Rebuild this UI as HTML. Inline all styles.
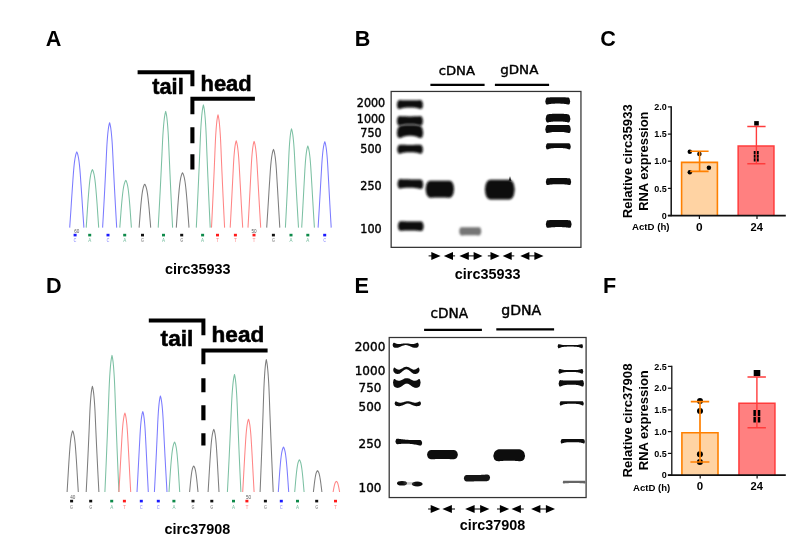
<!DOCTYPE html>
<html lang="en"><head><meta charset="utf-8"><title>Figure</title>
<style>
html,body{margin:0;padding:0;background:#fff;}
body{width:802px;height:544px;overflow:hidden;font-family:"Liberation Sans",sans-serif;}
svg{display:block;position:absolute;left:0;top:0;}

</style></head><body>
<svg width="802" height="544" viewBox="0 0 802 544">
<rect width="802" height="544" fill="#fff"/>
<text x="45.8" y="46.1" font-size="21.6" font-weight="bold" text-anchor="start" font-family="'Liberation Sans',sans-serif">A</text>
<text x="354.8" y="46.1" font-size="21.6" font-weight="bold" text-anchor="start" font-family="'Liberation Sans',sans-serif">B</text>
<text x="600.2" y="46.2" font-size="21.6" font-weight="bold" text-anchor="start" font-family="'Liberation Sans',sans-serif">C</text>
<text x="46.0" y="292.9" font-size="21.6" font-weight="bold" text-anchor="start" font-family="'Liberation Sans',sans-serif">D</text>
<text x="354.6" y="293.1" font-size="21.6" font-weight="bold" text-anchor="start" font-family="'Liberation Sans',sans-serif">E</text>
<text x="603.0999999999999" y="293.1" font-size="21.6" font-weight="bold" text-anchor="start" font-family="'Liberation Sans',sans-serif">F</text>
<path d="M69.70,227.60 L69.99,223.36 L70.28,219.22 L70.55,215.19 L70.82,211.25 L71.07,207.42 L71.31,203.70 L71.55,200.09 L71.78,196.58 L72.01,193.18 L72.23,189.90 L72.44,186.72 L72.66,183.67 L72.87,180.72 L73.06,177.90 L73.26,175.20 L73.45,172.62 L73.65,170.17 L73.86,167.84 L74.07,165.65 L74.30,163.59 L74.54,161.68 L74.79,159.90 L75.05,158.28 L75.32,156.81 L75.60,155.50 L75.88,154.36 L76.16,153.41 L76.45,152.66 L76.69,152.13 L76.80,151.90 L76.91,152.13 L77.15,152.66 L77.44,153.41 L77.72,154.36 L78.00,155.50 L78.28,156.81 L78.55,158.28 L78.81,159.90 L79.06,161.68 L79.30,163.59 L79.53,165.65 L79.74,167.84 L79.95,170.17 L80.15,172.62 L80.34,175.20 L80.54,177.90 L80.73,180.72 L80.94,183.67 L81.16,186.72 L81.37,189.90 L81.59,193.18 L81.82,196.58 L82.05,200.09 L82.29,203.70 L82.53,207.42 L82.78,211.25 L83.05,215.19 L83.32,219.22 L83.61,223.36 L83.90,227.60" fill="none" stroke="#7b7bff" stroke-width="1.05" stroke-linejoin="round"/>
<path d="M86.20,227.60 L86.42,224.35 L86.64,221.18 L86.85,218.09 L87.06,215.08 L87.25,212.14 L87.44,209.29 L87.63,206.52 L87.82,203.83 L88.00,201.23 L88.19,198.71 L88.38,196.28 L88.56,193.94 L88.75,191.68 L88.93,189.52 L89.11,187.45 L89.29,185.48 L89.48,183.60 L89.67,181.82 L89.87,180.14 L90.08,178.56 L90.30,177.09 L90.53,175.73 L90.77,174.49 L91.03,173.36 L91.29,172.36 L91.54,171.49 L91.80,170.76 L92.07,170.18 L92.29,169.78 L92.40,169.60 L92.51,169.78 L92.73,170.18 L93.01,170.76 L93.27,171.49 L93.53,172.36 L93.79,173.36 L94.06,174.49 L94.30,175.73 L94.53,177.09 L94.76,178.56 L94.97,180.14 L95.17,181.82 L95.37,183.60 L95.56,185.48 L95.74,187.45 L95.93,189.52 L96.11,191.68 L96.30,193.94 L96.49,196.28 L96.68,198.71 L96.87,201.23 L97.06,203.83 L97.25,206.52 L97.44,209.29 L97.63,212.14 L97.83,215.08 L98.04,218.09 L98.25,221.18 L98.47,224.35 L98.70,227.60" fill="none" stroke="#7cc0a3" stroke-width="1.05" stroke-linejoin="round"/>
<path d="M102.60,227.60 L102.94,221.73 L103.27,215.99 L103.58,210.40 L103.88,204.95 L104.17,199.64 L104.45,194.48 L104.71,189.47 L104.96,184.61 L105.20,179.91 L105.43,175.35 L105.65,170.96 L105.86,166.72 L106.06,162.64 L106.24,158.73 L106.41,154.99 L106.58,151.41 L106.76,148.01 L106.94,144.79 L107.14,141.76 L107.35,138.91 L107.57,136.25 L107.79,133.79 L108.02,131.54 L108.27,129.50 L108.52,127.69 L108.78,126.11 L109.04,124.79 L109.30,123.75 L109.50,123.02 L109.60,122.70 L109.70,123.02 L109.91,123.75 L110.17,124.79 L110.43,126.11 L110.70,127.69 L110.95,129.50 L111.20,131.54 L111.43,133.79 L111.66,136.25 L111.89,138.91 L112.10,141.76 L112.30,144.79 L112.48,148.01 L112.66,151.41 L112.83,154.99 L113.01,158.73 L113.19,162.64 L113.40,166.72 L113.61,170.96 L113.83,175.35 L114.06,179.91 L114.30,184.61 L114.56,189.47 L114.83,194.48 L115.11,199.64 L115.40,204.95 L115.70,210.40 L116.02,215.99 L116.35,221.73 L116.70,227.60" fill="none" stroke="#7b7bff" stroke-width="1.05" stroke-linejoin="round"/>
<path d="M119.80,227.60 L120.00,224.95 L120.20,222.37 L120.39,219.84 L120.58,217.39 L120.76,214.99 L120.93,212.67 L121.10,210.41 L121.28,208.22 L121.45,206.09 L121.63,204.04 L121.81,202.06 L121.99,200.15 L122.17,198.31 L122.35,196.55 L122.53,194.86 L122.71,193.25 L122.90,191.71 L123.09,190.26 L123.29,188.89 L123.50,187.61 L123.71,186.41 L123.94,185.30 L124.18,184.28 L124.44,183.37 L124.70,182.55 L124.95,181.84 L125.20,181.24 L125.47,180.77 L125.69,180.45 L125.80,180.30 L125.90,180.45 L126.11,180.77 L126.36,181.24 L126.60,181.84 L126.83,182.55 L127.07,183.37 L127.31,184.28 L127.54,185.30 L127.75,186.41 L127.95,187.61 L128.14,188.89 L128.33,190.26 L128.51,191.71 L128.68,193.25 L128.85,194.86 L129.02,196.55 L129.19,198.31 L129.36,200.15 L129.53,202.06 L129.69,204.04 L129.86,206.09 L130.02,208.22 L130.19,210.41 L130.35,212.67 L130.51,214.99 L130.67,217.39 L130.85,219.84 L131.03,222.37 L131.21,224.95 L131.40,227.60" fill="none" stroke="#7cc0a3" stroke-width="1.05" stroke-linejoin="round"/>
<path d="M139.10,227.60 L139.29,225.17 L139.47,222.80 L139.65,220.48 L139.83,218.23 L139.99,216.03 L140.15,213.90 L140.31,211.83 L140.48,209.82 L140.64,207.87 L140.81,205.98 L140.97,204.16 L141.14,202.41 L141.31,200.73 L141.48,199.11 L141.65,197.56 L141.82,196.08 L141.99,194.67 L142.17,193.34 L142.36,192.08 L142.55,190.90 L142.75,189.81 L142.96,188.79 L143.19,187.86 L143.43,187.01 L143.67,186.26 L143.90,185.61 L144.14,185.07 L144.39,184.63 L144.60,184.33 L144.70,184.20 L144.81,184.33 L145.03,184.63 L145.30,185.07 L145.55,185.61 L145.80,186.26 L146.06,187.01 L146.32,187.86 L146.56,188.79 L146.79,189.81 L147.00,190.90 L147.21,192.08 L147.41,193.34 L147.60,194.67 L147.79,196.08 L147.97,197.56 L148.15,199.11 L148.33,200.73 L148.51,202.41 L148.69,204.16 L148.87,205.98 L149.05,207.87 L149.22,209.82 L149.40,211.83 L149.57,213.90 L149.74,216.03 L149.92,218.23 L150.11,220.48 L150.30,222.80 L150.50,225.17 L150.70,227.60" fill="none" stroke="#7d7d7d" stroke-width="1.05" stroke-linejoin="round"/>
<path d="M158.20,227.60 L158.56,221.09 L158.91,214.74 L159.25,208.54 L159.57,202.51 L159.88,196.63 L160.18,190.92 L160.46,185.37 L160.73,179.98 L160.99,174.77 L161.23,169.72 L161.46,164.85 L161.69,160.16 L161.91,155.64 L162.10,151.31 L162.28,147.16 L162.47,143.21 L162.65,139.44 L162.85,135.87 L163.06,132.51 L163.29,129.35 L163.52,126.41 L163.76,123.68 L164.01,121.19 L164.27,118.93 L164.54,116.93 L164.82,115.18 L165.10,113.72 L165.38,112.56 L165.60,111.76 L165.70,111.40 L165.80,111.76 L166.00,112.56 L166.25,113.72 L166.51,115.18 L166.77,116.93 L167.01,118.93 L167.26,121.19 L167.48,123.68 L167.70,126.41 L167.92,129.35 L168.13,132.51 L168.32,135.87 L168.50,139.44 L168.67,143.21 L168.84,147.16 L169.01,151.31 L169.19,155.64 L169.39,160.16 L169.60,164.85 L169.81,169.72 L170.04,174.77 L170.27,179.98 L170.52,185.37 L170.78,190.92 L171.05,196.63 L171.34,202.51 L171.63,208.54 L171.94,214.74 L172.26,221.09 L172.60,227.60" fill="none" stroke="#7cc0a3" stroke-width="1.05" stroke-linejoin="round"/>
<path d="M176.30,227.60 L176.52,224.53 L176.73,221.54 L176.93,218.61 L177.13,215.77 L177.33,213.00 L177.51,210.30 L177.70,207.68 L177.88,205.14 L178.07,202.68 L178.25,200.31 L178.44,198.01 L178.62,195.80 L178.81,193.67 L178.99,191.62 L179.17,189.67 L179.36,187.80 L179.55,186.02 L179.74,184.34 L179.94,182.76 L180.16,181.27 L180.38,179.88 L180.61,178.59 L180.85,177.42 L181.12,176.35 L181.38,175.41 L181.63,174.58 L181.89,173.89 L182.17,173.35 L182.39,172.97 L182.50,172.80 L182.61,172.97 L182.85,173.35 L183.14,173.89 L183.41,174.58 L183.68,175.41 L183.95,176.35 L184.23,177.42 L184.48,178.59 L184.72,179.88 L184.96,181.27 L185.18,182.76 L185.39,184.34 L185.60,186.02 L185.79,187.80 L185.99,189.67 L186.18,191.62 L186.37,193.67 L186.57,195.80 L186.76,198.01 L186.95,200.31 L187.15,202.68 L187.34,205.14 L187.54,207.68 L187.73,210.30 L187.92,213.00 L188.12,215.77 L188.33,218.61 L188.55,221.54 L188.77,224.53 L189.00,227.60" fill="none" stroke="#7d7d7d" stroke-width="1.05" stroke-linejoin="round"/>
<path d="M196.30,227.60 L196.65,220.73 L196.98,214.02 L197.30,207.48 L197.60,201.10 L197.89,194.90 L198.17,188.86 L198.44,183.00 L198.70,177.32 L198.94,171.81 L199.17,166.49 L199.39,161.34 L199.60,156.39 L199.81,151.62 L199.99,147.04 L200.17,142.67 L200.34,138.49 L200.52,134.51 L200.70,130.74 L200.90,127.19 L201.11,123.86 L201.34,120.75 L201.57,117.87 L201.80,115.24 L202.05,112.85 L202.30,110.73 L202.57,108.89 L202.83,107.35 L203.09,106.13 L203.30,105.28 L203.40,104.90 L203.49,105.28 L203.69,106.13 L203.94,107.35 L204.20,108.89 L204.45,110.73 L204.70,112.85 L204.93,115.24 L205.16,117.87 L205.38,120.75 L205.59,123.86 L205.79,127.19 L205.98,130.74 L206.16,134.51 L206.33,138.49 L206.50,142.67 L206.66,147.04 L206.84,151.62 L207.04,156.39 L207.24,161.34 L207.45,166.49 L207.67,171.81 L207.90,177.32 L208.15,183.00 L208.41,188.86 L208.67,194.90 L208.95,201.10 L209.25,207.48 L209.55,214.02 L209.87,220.73 L210.20,227.60" fill="none" stroke="#7cc0a3" stroke-width="1.05" stroke-linejoin="round"/>
<path d="M211.50,227.60 L211.82,221.28 L212.12,215.12 L212.41,209.10 L212.69,203.24 L212.96,197.54 L213.21,191.99 L213.46,186.60 L213.69,181.38 L213.92,176.31 L214.13,171.42 L214.33,166.69 L214.52,162.13 L214.71,157.75 L214.88,153.54 L215.04,149.52 L215.20,145.68 L215.36,142.02 L215.53,138.56 L215.71,135.29 L215.91,132.23 L216.11,129.37 L216.32,126.72 L216.54,124.30 L216.76,122.11 L217.00,120.16 L217.24,118.47 L217.48,117.05 L217.72,115.93 L217.91,115.15 L218.00,114.80 L218.09,115.15 L218.29,115.93 L218.53,117.05 L218.77,118.47 L219.02,120.16 L219.26,122.11 L219.49,124.30 L219.70,126.72 L219.92,129.37 L220.12,132.23 L220.32,135.29 L220.51,138.56 L220.68,142.02 L220.85,145.68 L221.01,149.52 L221.17,153.54 L221.34,157.75 L221.53,162.13 L221.73,166.69 L221.93,171.42 L222.15,176.31 L222.37,181.38 L222.61,186.60 L222.86,191.99 L223.12,197.54 L223.39,203.24 L223.68,209.10 L223.97,215.12 L224.28,221.28 L224.60,227.60" fill="none" stroke="#ff8585" stroke-width="1.05" stroke-linejoin="round"/>
<path d="M230.20,227.60 L230.47,222.74 L230.73,217.99 L230.97,213.37 L231.21,208.86 L231.44,204.47 L231.66,200.20 L231.88,196.05 L232.08,192.03 L232.28,188.14 L232.47,184.37 L232.65,180.73 L232.83,177.22 L233.01,173.85 L233.17,170.61 L233.33,167.52 L233.48,164.56 L233.64,161.75 L233.81,159.08 L233.98,156.57 L234.17,154.21 L234.37,152.01 L234.57,149.98 L234.78,148.11 L235.00,146.43 L235.23,144.93 L235.46,143.62 L235.69,142.53 L235.92,141.67 L236.11,141.07 L236.20,140.80 L236.30,141.07 L236.50,141.67 L236.75,142.53 L237.01,143.62 L237.25,144.93 L237.50,146.43 L237.74,148.11 L237.97,149.98 L238.19,152.01 L238.40,154.21 L238.60,156.57 L238.79,159.08 L238.97,161.75 L239.15,164.56 L239.31,167.52 L239.48,170.61 L239.66,173.85 L239.85,177.22 L240.04,180.73 L240.24,184.37 L240.45,188.14 L240.66,192.03 L240.89,196.05 L241.12,200.20 L241.35,204.47 L241.60,208.86 L241.86,213.37 L242.13,217.99 L242.41,222.74 L242.70,227.60" fill="none" stroke="#ff8585" stroke-width="1.05" stroke-linejoin="round"/>
<path d="M248.00,227.60 L248.27,222.77 L248.53,218.06 L248.78,213.46 L249.03,208.99 L249.26,204.63 L249.48,200.39 L249.70,196.27 L249.91,192.28 L250.11,188.41 L250.30,184.67 L250.49,181.05 L250.67,177.57 L250.85,174.22 L251.01,171.01 L251.17,167.93 L251.33,164.99 L251.49,162.20 L251.66,159.56 L251.84,157.06 L252.03,154.72 L252.23,152.53 L252.44,150.51 L252.65,148.66 L252.88,146.99 L253.11,145.50 L253.34,144.20 L253.58,143.12 L253.82,142.26 L254.01,141.67 L254.10,141.40 L254.20,141.67 L254.41,142.26 L254.66,143.12 L254.92,144.20 L255.17,145.50 L255.42,146.99 L255.67,148.66 L255.90,150.51 L256.12,152.53 L256.34,154.72 L256.54,157.06 L256.74,159.56 L256.92,162.20 L257.10,164.99 L257.27,167.93 L257.44,171.01 L257.62,174.22 L257.81,177.57 L258.01,181.05 L258.21,184.67 L258.42,188.41 L258.64,192.28 L258.86,196.27 L259.10,200.39 L259.34,204.63 L259.59,208.99 L259.85,213.46 L260.12,218.06 L260.41,222.77 L260.70,227.60" fill="none" stroke="#ff8585" stroke-width="1.05" stroke-linejoin="round"/>
<path d="M266.70,227.60 L266.99,223.22 L267.26,218.95 L267.53,214.78 L267.79,210.71 L268.03,206.76 L268.27,202.91 L268.50,199.18 L268.72,195.56 L268.94,192.05 L269.15,188.65 L269.36,185.37 L269.57,182.21 L269.77,179.18 L269.95,176.26 L270.14,173.47 L270.32,170.81 L270.51,168.27 L270.70,165.87 L270.91,163.61 L271.13,161.48 L271.36,159.50 L271.59,157.67 L271.84,155.99 L272.10,154.47 L272.36,153.12 L272.63,151.94 L272.90,150.96 L273.17,150.18 L273.39,149.64 L273.50,149.40 L273.60,149.64 L273.80,150.18 L274.06,150.96 L274.31,151.94 L274.55,153.12 L274.80,154.47 L275.04,155.99 L275.27,157.67 L275.49,159.50 L275.70,161.48 L275.90,163.61 L276.09,165.87 L276.27,168.27 L276.45,170.81 L276.62,173.47 L276.78,176.26 L276.96,179.18 L277.14,182.21 L277.33,185.37 L277.53,188.65 L277.72,192.05 L277.92,195.56 L278.13,199.18 L278.35,202.91 L278.57,206.76 L278.79,210.71 L279.03,214.78 L279.28,218.95 L279.53,223.22 L279.80,227.60" fill="none" stroke="#7d7d7d" stroke-width="1.05" stroke-linejoin="round"/>
<path d="M285.40,227.60 L285.69,222.07 L285.98,216.67 L286.25,211.40 L286.51,206.26 L286.76,201.27 L287.00,196.41 L287.23,191.69 L287.45,187.11 L287.65,182.68 L287.85,178.39 L288.04,174.25 L288.22,170.26 L288.40,166.42 L288.56,162.74 L288.71,159.21 L288.86,155.84 L289.01,152.64 L289.17,149.61 L289.34,146.75 L289.53,144.06 L289.72,141.56 L289.92,139.24 L290.12,137.12 L290.33,135.20 L290.55,133.50 L290.78,132.01 L291.01,130.77 L291.23,129.79 L291.42,129.10 L291.50,128.80 L291.60,129.10 L291.80,129.79 L292.06,130.77 L292.33,132.01 L292.59,133.50 L292.84,135.20 L293.09,137.12 L293.32,139.24 L293.54,141.56 L293.76,144.06 L293.97,146.75 L294.17,149.61 L294.36,152.64 L294.53,155.84 L294.70,159.21 L294.88,162.74 L295.06,166.42 L295.26,170.26 L295.47,174.25 L295.69,178.39 L295.91,182.68 L296.15,187.11 L296.40,191.69 L296.67,196.41 L296.94,201.27 L297.23,206.26 L297.53,211.40 L297.84,216.67 L298.16,222.07 L298.50,227.60" fill="none" stroke="#7cc0a3" stroke-width="1.05" stroke-linejoin="round"/>
<path d="M301.70,227.60 L301.96,223.03 L302.22,218.57 L302.46,214.22 L302.70,209.98 L302.92,205.85 L303.14,201.84 L303.35,197.94 L303.55,194.16 L303.75,190.50 L303.94,186.96 L304.13,183.54 L304.31,180.24 L304.49,177.07 L304.66,174.03 L304.82,171.12 L304.98,168.34 L305.15,165.69 L305.32,163.19 L305.50,160.82 L305.70,158.61 L305.90,156.54 L306.11,154.63 L306.33,152.87 L306.56,151.29 L306.79,149.88 L307.03,148.66 L307.27,147.63 L307.51,146.82 L307.71,146.25 L307.80,146.00 L307.90,146.25 L308.11,146.82 L308.38,147.63 L308.64,148.66 L308.89,149.88 L309.15,151.29 L309.40,152.87 L309.63,154.63 L309.86,156.54 L310.08,158.61 L310.28,160.82 L310.48,163.19 L310.67,165.69 L310.85,168.34 L311.02,171.12 L311.20,174.03 L311.38,177.07 L311.57,180.24 L311.77,183.54 L311.97,186.96 L312.18,190.50 L312.39,194.16 L312.62,197.94 L312.84,201.84 L313.08,205.85 L313.32,209.98 L313.58,214.22 L313.84,218.57 L314.12,223.03 L314.40,227.60" fill="none" stroke="#7cc0a3" stroke-width="1.05" stroke-linejoin="round"/>
<path d="M318.10,227.60 L318.40,222.79 L318.68,218.09 L318.96,213.51 L319.23,209.05 L319.48,204.71 L319.72,200.48 L319.96,196.38 L320.19,192.40 L320.41,188.54 L320.62,184.82 L320.83,181.22 L321.03,177.75 L321.22,174.41 L321.41,171.20 L321.58,168.14 L321.75,165.21 L321.93,162.43 L322.12,159.79 L322.32,157.30 L322.53,154.97 L322.75,152.79 L322.97,150.78 L323.21,148.94 L323.46,147.27 L323.71,145.78 L323.97,144.50 L324.23,143.41 L324.49,142.56 L324.70,141.96 L324.80,141.70 L324.90,141.96 L325.10,142.56 L325.35,143.41 L325.60,144.50 L325.84,145.78 L326.08,147.27 L326.32,148.94 L326.55,150.78 L326.76,152.79 L326.97,154.97 L327.17,157.30 L327.36,159.79 L327.54,162.43 L327.71,165.21 L327.88,168.14 L328.04,171.20 L328.22,174.41 L328.40,177.75 L328.60,181.22 L328.79,184.82 L328.99,188.54 L329.20,192.40 L329.42,196.38 L329.65,200.48 L329.88,204.71 L330.12,209.05 L330.38,213.51 L330.64,218.09 L330.92,222.79 L331.20,227.60" fill="none" stroke="#7b7bff" stroke-width="1.05" stroke-linejoin="round"/>
<rect x="73.6" y="233.8" width="3" height="2.6" fill="#1a1aff"/>
<text x="75.1" y="242.4" font-size="5" text-anchor="middle" fill="#8a8aff" font-family="'Liberation Mono',monospace">C</text>
<rect x="88.2" y="233.8" width="3" height="2.6" fill="#0e8a4a"/>
<text x="89.7" y="242.4" font-size="5" text-anchor="middle" fill="#7cc0a3" font-family="'Liberation Mono',monospace">A</text>
<rect x="106.5" y="233.8" width="3" height="2.6" fill="#1a1aff"/>
<text x="108.0" y="242.4" font-size="5" text-anchor="middle" fill="#8a8aff" font-family="'Liberation Mono',monospace">C</text>
<rect x="123.2" y="233.8" width="3" height="2.6" fill="#0e8a4a"/>
<text x="124.7" y="242.4" font-size="5" text-anchor="middle" fill="#7cc0a3" font-family="'Liberation Mono',monospace">A</text>
<rect x="141.0" y="233.8" width="3" height="2.6" fill="#111111"/>
<text x="142.5" y="242.4" font-size="5" text-anchor="middle" fill="#888888" font-family="'Liberation Mono',monospace">G</text>
<rect x="162.0" y="233.8" width="3" height="2.6" fill="#0e8a4a"/>
<text x="163.5" y="242.4" font-size="5" text-anchor="middle" fill="#7cc0a3" font-family="'Liberation Mono',monospace">A</text>
<rect x="180.2" y="233.8" width="3" height="2.6" fill="#111111"/>
<text x="181.7" y="242.4" font-size="5" text-anchor="middle" fill="#888888" font-family="'Liberation Mono',monospace">G</text>
<rect x="201.1" y="233.8" width="3" height="2.6" fill="#0e8a4a"/>
<text x="202.6" y="242.4" font-size="5" text-anchor="middle" fill="#7cc0a3" font-family="'Liberation Mono',monospace">A</text>
<rect x="216.0" y="233.8" width="3" height="2.6" fill="#ff1a1a"/>
<text x="217.5" y="242.4" font-size="5" text-anchor="middle" fill="#ff8a8a" font-family="'Liberation Mono',monospace">T</text>
<rect x="233.9" y="233.8" width="3" height="2.6" fill="#ff1a1a"/>
<text x="235.4" y="242.4" font-size="5" text-anchor="middle" fill="#ff8a8a" font-family="'Liberation Mono',monospace">T</text>
<rect x="252.5" y="233.8" width="3" height="2.6" fill="#ff1a1a"/>
<text x="254.0" y="242.4" font-size="5" text-anchor="middle" fill="#ff8a8a" font-family="'Liberation Mono',monospace">T</text>
<rect x="271.9" y="233.8" width="3" height="2.6" fill="#111111"/>
<text x="273.4" y="242.4" font-size="5" text-anchor="middle" fill="#888888" font-family="'Liberation Mono',monospace">G</text>
<rect x="289.5" y="233.8" width="3" height="2.6" fill="#0e8a4a"/>
<text x="291.0" y="242.4" font-size="5" text-anchor="middle" fill="#7cc0a3" font-family="'Liberation Mono',monospace">A</text>
<rect x="306.3" y="233.8" width="3" height="2.6" fill="#0e8a4a"/>
<text x="307.8" y="242.4" font-size="5" text-anchor="middle" fill="#7cc0a3" font-family="'Liberation Mono',monospace">A</text>
<rect x="323.2" y="233.8" width="3" height="2.6" fill="#1a1aff"/>
<text x="324.7" y="242.4" font-size="5" text-anchor="middle" fill="#8a8aff" font-family="'Liberation Mono',monospace">C</text>
<text x="76.8" y="232.6" font-size="4.6" text-anchor="middle" fill="#555" font-family="'Liberation Sans',sans-serif">60</text>
<text x="254.1" y="232.6" font-size="4.6" text-anchor="middle" fill="#555" font-family="'Liberation Sans',sans-serif">50</text>
<path d="M137.6,72.2 H192.4 V86.2" fill="none" stroke="#000" stroke-width="4"/>
<path d="M254.9,98.8 H192.4 V114.2" fill="none" stroke="#000" stroke-width="4"/>
<path d="M192.4,127.3 V143.2 M192.4,154.2 V169.4" fill="none" stroke="#000" stroke-width="4.1"/>
<text x="152.3" y="93.7" font-size="22.4" font-weight="bold" text-anchor="start" font-family="'Liberation Sans',sans-serif" textLength="31.4" lengthAdjust="spacingAndGlyphs" stroke="#000" stroke-width="0.55">tail</text>
<text x="200.5" y="90.9" font-size="22.4" font-weight="bold" text-anchor="start" font-family="'Liberation Sans',sans-serif" textLength="51.2" lengthAdjust="spacingAndGlyphs" stroke="#000" stroke-width="0.55">head</text>
<text x="197.7" y="274.1" font-size="14.4" font-weight="bold" text-anchor="middle" font-family="'Liberation Sans',sans-serif">circ35933</text>
<path d="M67.10,492.00 L67.31,488.58 L67.51,485.24 L67.70,481.98 L67.89,478.81 L68.07,475.72 L68.25,472.71 L68.42,469.79 L68.59,466.96 L68.76,464.22 L68.93,461.57 L69.10,459.01 L69.27,456.54 L69.44,454.16 L69.60,451.89 L69.76,449.71 L69.92,447.62 L70.09,445.64 L70.26,443.77 L70.44,442.00 L70.63,440.34 L70.82,438.79 L71.03,437.36 L71.24,436.05 L71.48,434.86 L71.71,433.81 L71.93,432.89 L72.17,432.12 L72.41,431.51 L72.61,431.09 L72.70,430.90 L72.79,431.09 L72.99,431.51 L73.23,432.12 L73.47,432.89 L73.69,433.81 L73.92,434.86 L74.16,436.05 L74.37,437.36 L74.58,438.79 L74.77,440.34 L74.96,442.00 L75.14,443.77 L75.31,445.64 L75.48,447.62 L75.64,449.71 L75.80,451.89 L75.96,454.16 L76.13,456.54 L76.30,459.01 L76.47,461.57 L76.64,464.22 L76.81,466.96 L76.98,469.79 L77.15,472.71 L77.33,475.72 L77.51,478.81 L77.70,481.98 L77.89,485.24 L78.09,488.58 L78.30,492.00" fill="none" stroke="#7d7d7d" stroke-width="1.05" stroke-linejoin="round"/>
<path d="M86.20,492.00 L86.50,486.08 L86.79,480.30 L87.07,474.67 L87.34,469.18 L87.59,463.83 L87.84,458.63 L88.07,453.58 L88.29,448.69 L88.50,443.94 L88.71,439.35 L88.90,434.92 L89.09,430.65 L89.26,426.55 L89.42,422.61 L89.58,418.83 L89.73,415.23 L89.88,411.81 L90.04,408.56 L90.22,405.50 L90.40,402.63 L90.60,399.95 L90.80,397.47 L91.00,395.21 L91.22,393.15 L91.44,391.33 L91.67,389.74 L91.90,388.41 L92.13,387.36 L92.31,386.63 L92.40,386.30 L92.49,386.63 L92.68,387.36 L92.92,388.41 L93.16,389.74 L93.40,391.33 L93.64,393.15 L93.86,395.21 L94.08,397.47 L94.29,399.95 L94.49,402.63 L94.69,405.50 L94.87,408.56 L95.04,411.81 L95.20,415.23 L95.36,418.83 L95.52,422.61 L95.69,426.55 L95.88,430.65 L96.07,434.92 L96.27,439.35 L96.48,443.94 L96.71,448.69 L96.94,453.58 L97.19,458.63 L97.44,463.83 L97.71,469.18 L97.99,474.67 L98.28,480.30 L98.58,486.08 L98.90,492.00" fill="none" stroke="#7d7d7d" stroke-width="1.05" stroke-linejoin="round"/>
<path d="M104.90,492.00 L105.25,484.35 L105.58,476.88 L105.90,469.60 L106.20,462.50 L106.49,455.59 L106.77,448.88 L107.04,442.35 L107.30,436.02 L107.54,429.89 L107.77,423.96 L107.99,418.24 L108.20,412.72 L108.41,407.41 L108.59,402.32 L108.77,397.44 L108.94,392.79 L109.12,388.36 L109.30,384.17 L109.50,380.21 L109.71,376.50 L109.94,373.04 L110.17,369.84 L110.40,366.91 L110.65,364.26 L110.90,361.90 L111.17,359.84 L111.43,358.13 L111.69,356.77 L111.90,355.82 L112.00,355.40 L112.10,355.82 L112.30,356.77 L112.55,358.13 L112.81,359.84 L113.07,361.90 L113.31,364.26 L113.56,366.91 L113.78,369.84 L114.00,373.04 L114.22,376.50 L114.43,380.21 L114.62,384.17 L114.80,388.36 L114.97,392.79 L115.14,397.44 L115.31,402.32 L115.49,407.41 L115.69,412.72 L115.90,418.24 L116.11,423.96 L116.34,429.89 L116.57,436.02 L116.82,442.35 L117.08,448.88 L117.35,455.59 L117.64,462.50 L117.93,469.60 L118.24,476.88 L118.56,484.35 L118.90,492.00" fill="none" stroke="#7cc0a3" stroke-width="1.05" stroke-linejoin="round"/>
<path d="M118.90,492.00 L119.15,487.58 L119.40,483.27 L119.64,479.06 L119.86,474.96 L120.08,470.97 L120.29,467.09 L120.49,463.32 L120.69,459.67 L120.89,456.13 L121.07,452.70 L121.26,449.40 L121.44,446.21 L121.61,443.14 L121.78,440.20 L121.94,437.38 L122.10,434.70 L122.27,432.14 L122.44,429.72 L122.62,427.43 L122.81,425.29 L123.01,423.29 L123.22,421.44 L123.44,419.75 L123.67,418.21 L123.90,416.85 L124.13,415.67 L124.37,414.67 L124.61,413.89 L124.81,413.34 L124.90,413.10 L124.99,413.34 L125.18,413.89 L125.41,414.67 L125.64,415.67 L125.87,416.85 L126.09,418.21 L126.32,419.75 L126.52,421.44 L126.72,423.29 L126.92,425.29 L127.10,427.43 L127.28,429.72 L127.45,432.14 L127.61,434.70 L127.76,437.38 L127.92,440.20 L128.08,443.14 L128.25,446.21 L128.42,449.40 L128.60,452.70 L128.78,456.13 L128.97,459.67 L129.16,463.32 L129.36,467.09 L129.56,470.97 L129.77,474.96 L129.99,479.06 L130.22,483.27 L130.45,487.58 L130.70,492.00" fill="none" stroke="#ff8585" stroke-width="1.05" stroke-linejoin="round"/>
<path d="M137.00,492.00 L137.25,487.50 L137.49,483.10 L137.72,478.82 L137.94,474.64 L138.15,470.57 L138.36,466.62 L138.56,462.78 L138.75,459.05 L138.94,455.45 L139.12,451.96 L139.30,448.59 L139.47,445.34 L139.64,442.21 L139.80,439.22 L139.95,436.35 L140.11,433.61 L140.27,431.00 L140.43,428.53 L140.61,426.21 L140.79,424.02 L140.99,421.98 L141.18,420.10 L141.39,418.37 L141.61,416.81 L141.84,415.42 L142.06,414.22 L142.29,413.20 L142.52,412.41 L142.71,411.85 L142.80,411.60 L142.88,411.85 L143.06,412.41 L143.28,413.20 L143.50,414.22 L143.71,415.42 L143.93,416.81 L144.14,418.37 L144.33,420.10 L144.52,421.98 L144.70,424.02 L144.88,426.21 L145.04,428.53 L145.20,431.00 L145.35,433.61 L145.50,436.35 L145.64,439.22 L145.80,442.21 L145.96,445.34 L146.12,448.59 L146.29,451.96 L146.46,455.45 L146.64,459.05 L146.82,462.78 L147.01,466.62 L147.21,470.57 L147.41,474.64 L147.62,478.82 L147.84,483.10 L148.06,487.50 L148.30,492.00" fill="none" stroke="#7b7bff" stroke-width="1.05" stroke-linejoin="round"/>
<path d="M154.40,492.00 L154.68,486.62 L154.96,481.38 L155.22,476.26 L155.47,471.27 L155.71,466.41 L155.95,461.69 L156.17,457.11 L156.38,452.66 L156.58,448.35 L156.78,444.19 L156.96,440.16 L157.14,436.28 L157.32,432.55 L157.48,428.97 L157.62,425.55 L157.77,422.28 L157.93,419.17 L158.09,416.22 L158.26,413.44 L158.44,410.83 L158.63,408.40 L158.83,406.15 L159.03,404.09 L159.24,402.22 L159.46,400.56 L159.68,399.12 L159.91,397.92 L160.13,396.96 L160.32,396.30 L160.40,396.00 L160.49,396.30 L160.69,396.96 L160.94,397.92 L161.19,399.12 L161.44,400.56 L161.68,402.22 L161.91,404.09 L162.13,406.15 L162.35,408.40 L162.56,410.83 L162.76,413.44 L162.94,416.22 L163.12,419.17 L163.29,422.28 L163.45,425.55 L163.62,428.97 L163.79,432.55 L163.98,436.28 L164.18,440.16 L164.38,444.19 L164.60,448.35 L164.82,452.66 L165.05,457.11 L165.30,461.69 L165.55,466.41 L165.82,471.27 L166.10,476.26 L166.39,481.38 L166.69,486.62 L167.00,492.00" fill="none" stroke="#7b7bff" stroke-width="1.05" stroke-linejoin="round"/>
<path d="M169.00,492.00 L169.19,489.21 L169.37,486.48 L169.55,483.82 L169.73,481.22 L169.89,478.70 L170.05,476.25 L170.21,473.86 L170.38,471.55 L170.54,469.31 L170.71,467.15 L170.87,465.05 L171.04,463.04 L171.21,461.10 L171.38,459.24 L171.55,457.46 L171.72,455.76 L171.89,454.14 L172.07,452.61 L172.26,451.16 L172.45,449.81 L172.65,448.54 L172.86,447.38 L173.09,446.30 L173.33,445.33 L173.57,444.47 L173.80,443.72 L174.04,443.10 L174.29,442.60 L174.50,442.25 L174.60,442.10 L174.69,442.25 L174.88,442.60 L175.11,443.10 L175.33,443.72 L175.54,444.47 L175.76,445.33 L175.98,446.30 L176.18,447.38 L176.37,448.54 L176.56,449.81 L176.74,451.16 L176.90,452.61 L177.07,454.14 L177.23,455.76 L177.38,457.46 L177.53,459.24 L177.68,461.10 L177.84,463.04 L177.99,465.05 L178.14,467.15 L178.29,469.31 L178.44,471.55 L178.59,473.86 L178.74,476.25 L178.89,478.70 L179.04,481.22 L179.20,483.82 L179.36,486.48 L179.53,489.21 L179.70,492.00" fill="none" stroke="#7cc0a3" stroke-width="1.05" stroke-linejoin="round"/>
<path d="M189.60,492.00 L189.74,490.54 L189.87,489.12 L190.00,487.74 L190.13,486.39 L190.25,485.07 L190.37,483.79 L190.49,482.55 L190.61,481.35 L190.73,480.18 L190.85,479.05 L190.97,477.96 L191.10,476.91 L191.22,475.90 L191.34,474.93 L191.46,474.00 L191.59,473.12 L191.72,472.27 L191.85,471.48 L191.98,470.72 L192.13,470.02 L192.27,469.36 L192.43,468.75 L192.59,468.19 L192.77,467.69 L192.95,467.24 L193.12,466.85 L193.29,466.52 L193.47,466.26 L193.63,466.08 L193.70,466.00 L193.78,466.08 L193.94,466.26 L194.13,466.52 L194.31,466.85 L194.49,467.24 L194.67,467.69 L194.86,468.19 L195.03,468.75 L195.19,469.36 L195.35,470.02 L195.50,470.72 L195.64,471.48 L195.78,472.27 L195.91,473.12 L196.04,474.00 L196.17,474.93 L196.30,475.90 L196.43,476.91 L196.56,477.96 L196.69,479.05 L196.81,480.18 L196.94,481.35 L197.07,482.55 L197.19,483.79 L197.32,485.07 L197.44,486.39 L197.58,487.74 L197.71,489.12 L197.86,490.54 L198.00,492.00" fill="none" stroke="#7d7d7d" stroke-width="1.05" stroke-linejoin="round"/>
<path d="M208.10,492.00 L208.31,488.49 L208.52,485.07 L208.72,481.73 L208.92,478.48 L209.10,475.32 L209.28,472.24 L209.46,469.25 L209.64,466.35 L209.81,463.54 L209.98,460.82 L210.15,458.20 L210.32,455.67 L210.49,453.24 L210.66,450.90 L210.82,448.67 L210.99,446.54 L211.15,444.51 L211.33,442.58 L211.51,440.77 L211.70,439.07 L211.90,437.49 L212.11,436.02 L212.33,434.67 L212.56,433.46 L212.79,432.38 L213.02,431.44 L213.26,430.65 L213.50,430.03 L213.70,429.59 L213.80,429.40 L213.89,429.59 L214.07,430.03 L214.29,430.65 L214.51,431.44 L214.72,432.38 L214.93,433.46 L215.15,434.67 L215.34,436.02 L215.53,437.49 L215.72,439.07 L215.89,440.77 L216.05,442.58 L216.21,444.51 L216.37,446.54 L216.52,448.67 L216.67,450.90 L216.82,453.24 L216.97,455.67 L217.13,458.20 L217.28,460.82 L217.44,463.54 L217.60,466.35 L217.76,469.25 L217.92,472.24 L218.09,475.32 L218.26,478.48 L218.43,481.73 L218.62,485.07 L218.81,488.49 L219.00,492.00" fill="none" stroke="#7d7d7d" stroke-width="1.05" stroke-linejoin="round"/>
<path d="M227.40,492.00 L227.75,485.42 L228.08,479.00 L228.40,472.73 L228.70,466.63 L228.99,460.68 L229.27,454.91 L229.54,449.29 L229.80,443.85 L230.04,438.58 L230.27,433.48 L230.49,428.55 L230.70,423.81 L230.91,419.24 L231.09,414.86 L231.27,410.66 L231.44,406.66 L231.62,402.86 L231.80,399.25 L232.00,395.85 L232.21,392.65 L232.44,389.68 L232.67,386.92 L232.90,384.40 L233.15,382.12 L233.40,380.09 L233.67,378.32 L233.93,376.84 L234.19,375.68 L234.40,374.86 L234.50,374.50 L234.59,374.86 L234.78,375.68 L235.01,376.84 L235.25,378.32 L235.49,380.09 L235.72,382.12 L235.94,384.40 L236.15,386.92 L236.36,389.68 L236.56,392.65 L236.75,395.85 L236.93,399.25 L237.10,402.86 L237.26,406.66 L237.41,410.66 L237.57,414.86 L237.74,419.24 L237.92,423.81 L238.11,428.55 L238.31,433.48 L238.52,438.58 L238.74,443.85 L238.97,449.29 L239.21,454.91 L239.46,460.68 L239.73,466.63 L240.00,472.73 L240.29,479.00 L240.59,485.42 L240.90,492.00" fill="none" stroke="#7cc0a3" stroke-width="1.05" stroke-linejoin="round"/>
<path d="M242.70,492.00 L242.93,487.93 L243.16,483.95 L243.38,480.08 L243.59,476.30 L243.79,472.62 L243.99,469.05 L244.18,465.58 L244.37,462.21 L244.55,458.95 L244.73,455.79 L244.91,452.74 L245.08,449.81 L245.25,446.98 L245.42,444.27 L245.57,441.68 L245.73,439.20 L245.90,436.84 L246.07,434.61 L246.25,432.51 L246.44,430.53 L246.63,428.69 L246.84,426.99 L247.05,425.42 L247.28,424.01 L247.51,422.76 L247.74,421.67 L247.97,420.75 L248.21,420.03 L248.41,419.52 L248.50,419.30 L248.59,419.52 L248.78,420.03 L249.01,420.75 L249.23,421.67 L249.45,422.76 L249.68,424.01 L249.90,425.42 L250.10,426.99 L250.30,428.69 L250.49,430.53 L250.67,432.51 L250.85,434.61 L251.01,436.84 L251.17,439.20 L251.32,441.68 L251.48,444.27 L251.64,446.98 L251.80,449.81 L251.97,452.74 L252.14,455.79 L252.31,458.95 L252.49,462.21 L252.67,465.58 L252.85,469.05 L253.04,472.62 L253.24,476.30 L253.44,480.08 L253.65,483.95 L253.87,487.93 L254.10,492.00" fill="none" stroke="#ff8585" stroke-width="1.05" stroke-linejoin="round"/>
<path d="M260.10,492.00 L260.40,484.59 L260.69,477.35 L260.97,470.29 L261.24,463.41 L261.49,456.71 L261.74,450.20 L261.97,443.88 L262.19,437.74 L262.40,431.80 L262.61,426.06 L262.80,420.51 L262.99,415.16 L263.16,410.01 L263.32,405.08 L263.48,400.35 L263.63,395.84 L263.78,391.55 L263.94,387.49 L264.12,383.65 L264.30,380.05 L264.50,376.70 L264.70,373.60 L264.90,370.75 L265.12,368.18 L265.34,365.90 L265.57,363.91 L265.80,362.24 L266.03,360.93 L266.21,360.01 L266.30,359.60 L266.40,360.01 L266.60,360.93 L266.85,362.24 L267.11,363.91 L267.37,365.90 L267.61,368.18 L267.86,370.75 L268.08,373.60 L268.30,376.70 L268.52,380.05 L268.73,383.65 L268.92,387.49 L269.10,391.55 L269.27,395.84 L269.44,400.35 L269.61,405.08 L269.79,410.01 L269.99,415.16 L270.20,420.51 L270.41,426.06 L270.64,431.80 L270.87,437.74 L271.12,443.88 L271.38,450.20 L271.65,456.71 L271.94,463.41 L272.23,470.29 L272.54,477.35 L272.86,484.59 L273.20,492.00" fill="none" stroke="#7d7d7d" stroke-width="1.05" stroke-linejoin="round"/>
<path d="M278.30,492.00 L278.47,489.49 L278.65,487.03 L278.81,484.64 L278.97,482.30 L279.13,480.03 L279.28,477.83 L279.43,475.68 L279.58,473.60 L279.73,471.59 L279.89,469.64 L280.04,467.75 L280.20,465.94 L280.35,464.20 L280.51,462.52 L280.67,460.92 L280.82,459.39 L280.98,457.94 L281.15,456.56 L281.32,455.26 L281.50,454.04 L281.69,452.90 L281.89,451.85 L282.10,450.88 L282.32,450.01 L282.54,449.23 L282.76,448.56 L282.98,448.00 L283.21,447.55 L283.41,447.24 L283.50,447.10 L283.59,447.24 L283.79,447.55 L284.02,448.00 L284.24,448.56 L284.46,449.23 L284.68,450.01 L284.90,450.88 L285.11,451.85 L285.31,452.90 L285.50,454.04 L285.68,455.26 L285.85,456.56 L286.02,457.94 L286.18,459.39 L286.33,460.92 L286.49,462.52 L286.65,464.20 L286.80,465.94 L286.96,467.75 L287.11,469.64 L287.27,471.59 L287.42,473.60 L287.57,475.68 L287.72,477.83 L287.87,480.03 L288.03,482.30 L288.19,484.64 L288.35,487.03 L288.53,489.49 L288.70,492.00" fill="none" stroke="#7b7bff" stroke-width="1.05" stroke-linejoin="round"/>
<path d="M294.70,492.00 L294.86,490.20 L295.01,488.44 L295.16,486.72 L295.31,485.05 L295.45,483.42 L295.58,481.83 L295.72,480.30 L295.86,478.81 L296.00,477.36 L296.13,475.96 L296.27,474.61 L296.41,473.31 L296.56,472.06 L296.70,470.86 L296.84,469.71 L296.98,468.61 L297.13,467.57 L297.28,466.58 L297.43,465.65 L297.60,464.77 L297.77,463.96 L297.94,463.20 L298.13,462.51 L298.33,461.89 L298.54,461.33 L298.73,460.85 L298.93,460.44 L299.14,460.12 L299.32,459.90 L299.40,459.80 L299.48,459.90 L299.66,460.12 L299.87,460.44 L300.07,460.85 L300.26,461.33 L300.47,461.89 L300.67,462.51 L300.86,463.20 L301.03,463.96 L301.20,464.77 L301.37,465.65 L301.52,466.58 L301.67,467.57 L301.82,468.61 L301.96,469.71 L302.10,470.86 L302.24,472.06 L302.39,473.31 L302.53,474.61 L302.67,475.96 L302.80,477.36 L302.94,478.81 L303.08,480.30 L303.22,481.83 L303.35,483.42 L303.49,485.05 L303.64,486.72 L303.79,488.44 L303.94,490.20 L304.10,492.00" fill="none" stroke="#7cc0a3" stroke-width="1.05" stroke-linejoin="round"/>
<path d="M313.40,492.00 L313.54,490.81 L313.67,489.64 L313.80,488.51 L313.93,487.40 L314.05,486.32 L314.17,485.28 L314.29,484.26 L314.41,483.27 L314.53,482.32 L314.65,481.39 L314.77,480.50 L314.90,479.64 L315.02,478.81 L315.14,478.02 L315.26,477.26 L315.39,476.53 L315.52,475.84 L315.65,475.19 L315.78,474.57 L315.93,473.99 L316.07,473.45 L316.23,472.95 L316.39,472.49 L316.57,472.08 L316.75,471.71 L316.92,471.39 L317.09,471.12 L317.27,470.91 L317.43,470.77 L317.50,470.70 L317.58,470.77 L317.74,470.91 L317.94,471.12 L318.13,471.39 L318.31,471.71 L318.50,472.08 L318.69,472.49 L318.86,472.95 L319.03,473.45 L319.19,473.99 L319.34,474.57 L319.49,475.19 L319.63,475.84 L319.77,476.53 L319.90,477.26 L320.03,478.02 L320.16,478.81 L320.29,479.64 L320.43,480.50 L320.56,481.39 L320.69,482.32 L320.82,483.27 L320.95,484.26 L321.07,485.28 L321.20,486.32 L321.33,487.40 L321.47,488.51 L321.61,489.64 L321.75,490.81 L321.90,492.00" fill="none" stroke="#7d7d7d" stroke-width="1.05" stroke-linejoin="round"/>
<path d="M333.10,492.00 L333.21,491.41 L333.32,490.83 L333.42,490.26 L333.53,489.71 L333.63,489.17 L333.72,488.65 L333.82,488.15 L333.91,487.66 L334.01,487.18 L334.11,486.72 L334.20,486.28 L334.30,485.85 L334.40,485.44 L334.50,485.04 L334.60,484.66 L334.70,484.30 L334.80,483.96 L334.91,483.63 L335.02,483.33 L335.13,483.04 L335.25,482.77 L335.38,482.52 L335.51,482.29 L335.65,482.09 L335.79,481.90 L335.93,481.74 L336.07,481.61 L336.22,481.51 L336.34,481.43 L336.40,481.40 L336.46,481.43 L336.58,481.51 L336.72,481.61 L336.86,481.74 L336.99,481.90 L337.13,482.09 L337.26,482.29 L337.39,482.52 L337.51,482.77 L337.63,483.04 L337.74,483.33 L337.85,483.63 L337.95,483.96 L338.05,484.30 L338.14,484.66 L338.24,485.04 L338.34,485.44 L338.43,485.85 L338.53,486.28 L338.62,486.72 L338.72,487.18 L338.81,487.66 L338.91,488.15 L339.00,488.65 L339.09,489.17 L339.19,489.71 L339.29,490.26 L339.39,490.83 L339.49,491.41 L339.60,492.00" fill="none" stroke="#ff8585" stroke-width="1.05" stroke-linejoin="round"/>
<rect x="70.1" y="499.8" width="3" height="2.6" fill="#111111"/>
<text x="71.6" y="509.0" font-size="5" text-anchor="middle" fill="#888888" font-family="'Liberation Mono',monospace">G</text>
<rect x="89.2" y="499.8" width="3" height="2.6" fill="#111111"/>
<text x="90.7" y="509.0" font-size="5" text-anchor="middle" fill="#888888" font-family="'Liberation Mono',monospace">G</text>
<rect x="110.2" y="499.8" width="3" height="2.6" fill="#0e8a4a"/>
<text x="111.7" y="509.0" font-size="5" text-anchor="middle" fill="#7cc0a3" font-family="'Liberation Mono',monospace">A</text>
<rect x="122.9" y="499.8" width="3" height="2.6" fill="#ff1a1a"/>
<text x="124.4" y="509.0" font-size="5" text-anchor="middle" fill="#ff8a8a" font-family="'Liberation Mono',monospace">T</text>
<rect x="139.8" y="499.8" width="3" height="2.6" fill="#1a1aff"/>
<text x="141.3" y="509.0" font-size="5" text-anchor="middle" fill="#8a8aff" font-family="'Liberation Mono',monospace">C</text>
<rect x="156.8" y="499.8" width="3" height="2.6" fill="#1a1aff"/>
<text x="158.3" y="509.0" font-size="5" text-anchor="middle" fill="#8a8aff" font-family="'Liberation Mono',monospace">C</text>
<rect x="172.4" y="499.8" width="3" height="2.6" fill="#0e8a4a"/>
<text x="173.9" y="509.0" font-size="5" text-anchor="middle" fill="#7cc0a3" font-family="'Liberation Mono',monospace">A</text>
<rect x="191.5" y="499.8" width="3" height="2.6" fill="#111111"/>
<text x="193.0" y="509.0" font-size="5" text-anchor="middle" fill="#888888" font-family="'Liberation Mono',monospace">G</text>
<rect x="210.3" y="499.8" width="3" height="2.6" fill="#111111"/>
<text x="211.8" y="509.0" font-size="5" text-anchor="middle" fill="#888888" font-family="'Liberation Mono',monospace">G</text>
<rect x="232.0" y="499.8" width="3" height="2.6" fill="#0e8a4a"/>
<text x="233.5" y="509.0" font-size="5" text-anchor="middle" fill="#7cc0a3" font-family="'Liberation Mono',monospace">A</text>
<rect x="245.4" y="499.8" width="3" height="2.6" fill="#ff1a1a"/>
<text x="246.9" y="509.0" font-size="5" text-anchor="middle" fill="#ff8a8a" font-family="'Liberation Mono',monospace">T</text>
<rect x="263.9" y="499.8" width="3" height="2.6" fill="#111111"/>
<text x="265.4" y="509.0" font-size="5" text-anchor="middle" fill="#888888" font-family="'Liberation Mono',monospace">G</text>
<rect x="279.8" y="499.8" width="3" height="2.6" fill="#1a1aff"/>
<text x="281.3" y="509.0" font-size="5" text-anchor="middle" fill="#8a8aff" font-family="'Liberation Mono',monospace">C</text>
<rect x="296.0" y="499.8" width="3" height="2.6" fill="#0e8a4a"/>
<text x="297.5" y="509.0" font-size="5" text-anchor="middle" fill="#7cc0a3" font-family="'Liberation Mono',monospace">A</text>
<rect x="315.2" y="499.8" width="3" height="2.6" fill="#111111"/>
<text x="316.7" y="509.0" font-size="5" text-anchor="middle" fill="#888888" font-family="'Liberation Mono',monospace">G</text>
<rect x="334.0" y="499.8" width="3" height="2.6" fill="#ff1a1a"/>
<text x="335.5" y="509.0" font-size="5" text-anchor="middle" fill="#ff8a8a" font-family="'Liberation Mono',monospace">T</text>
<text x="72.7" y="498.6" font-size="4.6" text-anchor="middle" fill="#555" font-family="'Liberation Sans',sans-serif">40</text>
<text x="248.5" y="498.6" font-size="4.6" text-anchor="middle" fill="#555" font-family="'Liberation Sans',sans-serif">50</text>
<path d="M148.8,320.5 H203.4 V335.2" fill="none" stroke="#000" stroke-width="4"/>
<path d="M267.6,350.4 H203.4 V364.2" fill="none" stroke="#000" stroke-width="4"/>
<path d="M203.4,378.3 V392.3 M203.4,405.2 V420.2 M203.4,433.3 V445.4" fill="none" stroke="#000" stroke-width="4.2"/>
<text x="160.6" y="345.5" font-size="22.6" font-weight="bold" text-anchor="start" font-family="'Liberation Sans',sans-serif" textLength="32.8" lengthAdjust="spacingAndGlyphs" stroke="#000" stroke-width="0.55">tail</text>
<text x="211.6" y="341.8" font-size="22.2" font-weight="bold" text-anchor="start" font-family="'Liberation Sans',sans-serif" textLength="52.6" lengthAdjust="spacingAndGlyphs" stroke="#000" stroke-width="0.55">head</text>
<text x="197.4" y="534.2" font-size="14.4" font-weight="bold" text-anchor="middle" font-family="'Liberation Sans',sans-serif">circ37908</text>
<defs><filter id="b1" x="-20%" y="-50%" width="140%" height="200%"><feGaussianBlur stdDeviation="0.85"/></filter><filter id="b3" x="-20%" y="-50%" width="140%" height="200%"><feGaussianBlur stdDeviation="0.95"/></filter><filter id="b4" x="-20%" y="-50%" width="140%" height="200%"><feGaussianBlur stdDeviation="0.65"/></filter><filter id="b2" x="-20%" y="-50%" width="140%" height="200%"><feGaussianBlur stdDeviation="0.5"/></filter></defs>
<rect x="391.15" y="91.45" width="189.8" height="155.9" fill="#fff" stroke="#333" stroke-width="1.25"/>
<text x="371" y="107.4" font-size="12.2" font-weight="normal" text-anchor="middle" font-family="'DejaVu Sans','Liberation Sans',sans-serif" textLength="28.4" lengthAdjust="spacingAndGlyphs" stroke="#000" stroke-width="0.42">2000</text>
<text x="371" y="123.0" font-size="12.2" font-weight="normal" text-anchor="middle" font-family="'DejaVu Sans','Liberation Sans',sans-serif" textLength="28.4" lengthAdjust="spacingAndGlyphs" stroke="#000" stroke-width="0.42">1000</text>
<text x="371" y="137.4" font-size="12.2" font-weight="normal" text-anchor="middle" font-family="'DejaVu Sans','Liberation Sans',sans-serif" textLength="21.4" lengthAdjust="spacingAndGlyphs" stroke="#000" stroke-width="0.42">750</text>
<text x="371" y="153.0" font-size="12.2" font-weight="normal" text-anchor="middle" font-family="'DejaVu Sans','Liberation Sans',sans-serif" textLength="21.4" lengthAdjust="spacingAndGlyphs" stroke="#000" stroke-width="0.42">500</text>
<text x="371" y="189.6" font-size="12.2" font-weight="normal" text-anchor="middle" font-family="'DejaVu Sans','Liberation Sans',sans-serif" textLength="21.4" lengthAdjust="spacingAndGlyphs" stroke="#000" stroke-width="0.42">250</text>
<text x="371" y="232.5" font-size="12.2" font-weight="normal" text-anchor="middle" font-family="'DejaVu Sans','Liberation Sans',sans-serif" textLength="21.4" lengthAdjust="spacingAndGlyphs" stroke="#000" stroke-width="0.42">100</text>
<text x="438.7" y="75.3" font-size="13" font-weight="normal" text-anchor="start" font-family="'DejaVu Sans','Liberation Sans',sans-serif" textLength="36.3" lengthAdjust="spacingAndGlyphs" stroke="#000" stroke-width="0.42">cDNA</text>
<text x="500.2" y="74.3" font-size="13" font-weight="normal" text-anchor="start" font-family="'DejaVu Sans','Liberation Sans',sans-serif" textLength="38.2" lengthAdjust="spacingAndGlyphs" stroke="#000" stroke-width="0.42">gDNA</text>
<path d="M430.4,84.9 H484.6 M494.9,84.9 H549.1" stroke="#000" stroke-width="2.2"/>
<path d="M396.90,104.95 L397.55,101.71 L398.20,100.73 L398.86,100.24 L399.51,100.07 L400.16,100.09 L400.81,100.12 L401.47,100.14 L402.12,100.17 L402.77,100.19 L403.42,100.21 L404.08,100.23 L404.73,100.25 L405.38,100.26 L406.03,100.27 L406.69,100.28 L407.34,100.29 L407.99,100.29 L408.64,100.30 L409.30,100.30 L409.95,100.30 L410.60,100.30 L411.25,100.30 L411.91,100.29 L412.56,100.29 L413.21,100.28 L413.87,100.27 L414.52,100.26 L415.17,100.25 L415.82,100.23 L416.48,100.21 L417.13,100.19 L417.78,100.17 L418.43,100.14 L419.08,100.12 L419.74,100.09 L420.39,100.07 L421.04,100.24 L421.69,100.73 L422.35,101.71 L423.00,104.95 L423.00,104.95 L422.35,107.96 L421.69,108.72 L421.04,109.00 L420.39,108.98 L419.74,108.78 L419.08,108.59 L418.43,108.41 L417.78,108.25 L417.13,108.10 L416.48,107.97 L415.82,107.85 L415.17,107.75 L414.52,107.66 L413.87,107.58 L413.21,107.52 L412.56,107.48 L411.91,107.44 L411.25,107.42 L410.60,107.40 L409.95,107.40 L409.30,107.40 L408.64,107.42 L407.99,107.44 L407.34,107.48 L406.69,107.52 L406.03,107.58 L405.38,107.66 L404.73,107.75 L404.08,107.85 L403.42,107.97 L402.77,108.10 L402.12,108.25 L401.47,108.41 L400.81,108.59 L400.16,108.78 L399.51,108.98 L398.86,109.00 L398.20,108.72 L397.55,107.96 L396.90,104.95Z" fill="#0a0a0a" filter="url(#b1)" opacity="1"/>
<path d="M396.90,121.20 L397.55,117.86 L398.20,116.83 L398.86,116.30 L399.51,116.08 L400.16,116.08 L400.81,116.13 L401.47,116.17 L402.12,116.20 L402.77,116.24 L403.42,116.27 L404.08,116.30 L404.73,116.32 L405.38,116.34 L406.03,116.36 L406.69,116.37 L407.34,116.38 L407.99,116.39 L408.64,116.40 L409.30,116.40 L409.95,116.40 L410.60,116.40 L411.25,116.40 L411.91,116.39 L412.56,116.38 L413.21,116.37 L413.87,116.36 L414.52,116.34 L415.17,116.32 L415.82,116.30 L416.48,116.27 L417.13,116.24 L417.78,116.20 L418.43,116.17 L419.08,116.13 L419.74,116.08 L420.39,116.08 L421.04,116.30 L421.69,116.83 L422.35,117.86 L423.00,121.20 L423.00,121.20 L422.35,124.37 L421.69,125.24 L421.04,125.62 L420.39,125.70 L419.74,125.57 L419.08,125.40 L418.43,125.25 L417.78,125.12 L417.13,124.99 L416.48,124.88 L415.82,124.78 L415.17,124.69 L414.52,124.62 L413.87,124.56 L413.21,124.50 L412.56,124.46 L411.91,124.43 L411.25,124.41 L410.60,124.40 L409.95,124.40 L409.30,124.40 L408.64,124.41 L407.99,124.43 L407.34,124.46 L406.69,124.50 L406.03,124.56 L405.38,124.62 L404.73,124.69 L404.08,124.78 L403.42,124.88 L402.77,124.99 L402.12,125.12 L401.47,125.25 L400.81,125.40 L400.16,125.57 L399.51,125.70 L398.86,125.62 L398.20,125.24 L397.55,124.37 L396.90,121.20Z" fill="#0a0a0a" filter="url(#b1)" opacity="1"/>
<path d="M396.90,133.15 L397.56,129.08 L398.21,127.59 L398.87,126.63 L399.53,126.00 L400.19,125.61 L400.84,125.43 L401.50,125.32 L402.16,125.22 L402.82,125.13 L403.47,125.05 L404.13,124.98 L404.79,124.91 L405.45,124.86 L406.10,124.81 L406.76,124.78 L407.42,124.75 L408.08,124.72 L408.73,124.71 L409.39,124.70 L410.05,124.70 L410.71,124.70 L411.37,124.71 L412.02,124.72 L412.68,124.75 L413.34,124.78 L414.00,124.81 L414.65,124.86 L415.31,124.91 L415.97,124.98 L416.62,125.05 L417.28,125.13 L417.94,125.22 L418.60,125.32 L419.25,125.43 L419.91,125.61 L420.57,126.00 L421.23,126.63 L421.88,127.59 L422.54,129.08 L423.20,133.15 L423.20,133.15 L422.54,136.60 L421.88,137.51 L421.23,137.92 L420.57,138.05 L419.91,137.97 L419.25,137.72 L418.60,137.43 L417.94,137.17 L417.28,136.93 L416.62,136.71 L415.97,136.52 L415.31,136.36 L414.65,136.22 L414.00,136.10 L413.34,136.00 L412.68,135.92 L412.02,135.86 L411.37,135.83 L410.71,135.81 L410.05,135.80 L409.39,135.81 L408.73,135.83 L408.08,135.86 L407.42,135.92 L406.76,136.00 L406.10,136.10 L405.45,136.22 L404.79,136.36 L404.13,136.52 L403.47,136.71 L402.82,136.93 L402.16,137.17 L401.50,137.43 L400.84,137.72 L400.19,137.97 L399.53,138.05 L398.87,137.92 L398.21,137.51 L397.56,136.60 L396.90,133.15Z" fill="#0a0a0a" filter="url(#b1)" opacity="1"/>
<path d="M397.20,149.60 L397.84,146.39 L398.49,145.41 L399.13,144.91 L399.78,144.73 L400.43,144.74 L401.07,144.76 L401.71,144.78 L402.36,144.80 L403.00,144.82 L403.65,144.83 L404.30,144.85 L404.94,144.86 L405.58,144.87 L406.23,144.88 L406.88,144.89 L407.52,144.89 L408.17,144.90 L408.81,144.90 L409.45,144.90 L410.10,144.90 L410.75,144.90 L411.39,144.90 L412.03,144.90 L412.68,144.89 L413.32,144.89 L413.97,144.88 L414.62,144.87 L415.26,144.86 L415.90,144.85 L416.55,144.83 L417.19,144.82 L417.84,144.80 L418.49,144.78 L419.13,144.76 L419.77,144.74 L420.42,144.73 L421.06,144.91 L421.71,145.41 L422.36,146.39 L423.00,149.60 L423.00,149.60 L422.36,152.59 L421.71,153.36 L421.06,153.65 L420.42,153.66 L419.77,153.47 L419.13,153.30 L418.49,153.13 L417.84,152.98 L417.19,152.84 L416.55,152.72 L415.90,152.61 L415.26,152.52 L414.62,152.44 L413.97,152.37 L413.32,152.31 L412.68,152.27 L412.03,152.24 L411.39,152.22 L410.75,152.20 L410.10,152.20 L409.45,152.20 L408.81,152.22 L408.17,152.24 L407.52,152.27 L406.88,152.31 L406.23,152.37 L405.58,152.44 L404.94,152.52 L404.30,152.61 L403.65,152.72 L403.00,152.84 L402.36,152.98 L401.71,153.13 L401.07,153.30 L400.43,153.47 L399.78,153.66 L399.13,153.65 L398.49,153.36 L397.84,152.59 L397.20,149.60Z" fill="#0a0a0a" filter="url(#b1)" opacity="1"/>
<path d="M397.50,184.05 L398.14,180.80 L398.79,179.80 L399.44,179.28 L400.08,179.06 L400.73,179.07 L401.37,179.10 L402.01,179.13 L402.66,179.15 L403.31,179.18 L403.95,179.21 L404.60,179.23 L405.24,179.25 L405.88,179.28 L406.53,179.30 L407.18,179.32 L407.82,179.33 L408.47,179.35 L409.11,179.37 L409.75,179.38 L410.40,179.40 L411.05,179.41 L411.69,179.43 L412.33,179.44 L412.98,179.45 L413.62,179.47 L414.27,179.48 L414.92,179.49 L415.56,179.49 L416.20,179.50 L416.85,179.51 L417.50,179.51 L418.14,179.51 L418.79,179.52 L419.43,179.52 L420.07,179.52 L420.72,179.54 L421.37,179.79 L422.01,180.34 L422.66,181.37 L423.30,184.65 L423.30,184.65 L422.66,187.73 L422.01,188.57 L421.37,188.94 L420.72,189.02 L420.07,188.88 L419.43,188.73 L418.79,188.59 L418.14,188.47 L417.50,188.35 L416.85,188.24 L416.20,188.15 L415.56,188.06 L414.92,187.98 L414.27,187.92 L413.62,187.86 L412.98,187.81 L412.33,187.77 L411.69,187.74 L411.05,187.72 L410.40,187.70 L409.75,187.69 L409.11,187.68 L408.47,187.68 L407.82,187.69 L407.18,187.71 L406.53,187.74 L405.88,187.77 L405.24,187.82 L404.60,187.88 L403.95,187.94 L403.31,188.02 L402.66,188.11 L402.01,188.20 L401.37,188.31 L400.73,188.43 L400.08,188.54 L399.44,188.43 L398.79,188.03 L398.14,187.16 L397.50,184.05Z" fill="#0a0a0a" filter="url(#b1)" opacity="1"/>
<path d="M397.90,226.10 L398.54,222.88 L399.19,221.88 L399.83,221.37 L400.48,221.16 L401.12,221.18 L401.77,221.21 L402.41,221.25 L403.06,221.28 L403.70,221.31 L404.35,221.34 L405.00,221.36 L405.64,221.39 L406.28,221.41 L406.93,221.43 L407.57,221.44 L408.22,221.46 L408.87,221.47 L409.51,221.48 L410.15,221.49 L410.80,221.50 L411.44,221.51 L412.09,221.51 L412.73,221.52 L413.38,221.52 L414.02,221.52 L414.67,221.52 L415.31,221.51 L415.96,221.51 L416.60,221.50 L417.25,221.49 L417.89,221.48 L418.54,221.46 L419.19,221.44 L419.83,221.42 L420.47,221.40 L421.12,221.40 L421.76,221.62 L422.41,222.15 L423.06,223.16 L423.70,226.40 L423.70,226.40 L423.06,229.56 L422.41,230.49 L421.76,230.95 L421.12,231.10 L420.47,231.04 L419.83,230.96 L419.19,230.89 L418.54,230.82 L417.89,230.75 L417.25,230.69 L416.60,230.64 L415.96,230.59 L415.31,230.55 L414.67,230.52 L414.02,230.48 L413.38,230.46 L412.73,230.44 L412.09,230.42 L411.44,230.41 L410.80,230.40 L410.15,230.39 L409.51,230.39 L408.87,230.39 L408.22,230.40 L407.57,230.41 L406.93,230.43 L406.28,230.45 L405.64,230.47 L405.00,230.51 L404.35,230.54 L403.70,230.59 L403.06,230.64 L402.41,230.69 L401.77,230.75 L401.12,230.82 L400.48,230.86 L399.83,230.70 L399.19,230.22 L398.54,229.27 L397.90,226.10Z" fill="#0a0a0a" filter="url(#b1)" opacity="1"/>
<path d="M425.60,189.10 L426.31,184.54 L427.03,182.99 L427.74,182.01 L428.45,181.36 L429.16,180.95 L429.88,180.72 L430.59,180.66 L431.30,180.70 L432.01,180.73 L432.73,180.75 L433.44,180.77 L434.15,180.78 L434.86,180.79 L435.58,180.79 L436.29,180.80 L437.00,180.80 L437.71,180.80 L438.43,180.80 L439.14,180.80 L439.85,180.80 L440.56,180.80 L441.28,180.80 L441.99,180.80 L442.70,180.80 L443.41,180.80 L444.12,180.79 L444.84,180.79 L445.55,180.78 L446.26,180.77 L446.98,180.75 L447.69,180.73 L448.40,180.70 L449.11,180.66 L449.83,180.72 L450.54,180.95 L451.25,181.36 L451.96,182.01 L452.68,182.99 L453.39,184.54 L454.10,189.10 L454.10,189.10 L453.39,193.69 L452.68,195.28 L451.96,196.28 L451.25,196.96 L450.54,197.39 L449.83,197.63 L449.11,197.71 L448.40,197.68 L447.69,197.65 L446.98,197.64 L446.26,197.62 L445.55,197.62 L444.84,197.61 L444.12,197.60 L443.41,197.60 L442.70,197.60 L441.99,197.60 L441.28,197.60 L440.56,197.60 L439.85,197.60 L439.14,197.60 L438.43,197.60 L437.71,197.60 L437.00,197.60 L436.29,197.60 L435.58,197.60 L434.86,197.61 L434.15,197.62 L433.44,197.62 L432.73,197.64 L432.01,197.65 L431.30,197.68 L430.59,197.71 L429.88,197.63 L429.16,197.39 L428.45,196.96 L427.74,196.28 L427.03,195.28 L426.31,193.69 L425.60,189.10Z" fill="#0a0a0a" filter="url(#b3)" opacity="1"/>
<path d="M459.20,231.30 L459.75,228.59 L460.31,227.75 L460.86,227.32 L461.41,227.16 L461.96,227.17 L462.51,227.20 L463.07,227.22 L463.62,227.24 L464.17,227.25 L464.73,227.26 L465.28,227.27 L465.83,227.28 L466.38,227.29 L466.94,227.29 L467.49,227.30 L468.04,227.30 L468.59,227.30 L469.14,227.30 L469.70,227.30 L470.25,227.30 L470.80,227.30 L471.36,227.30 L471.91,227.30 L472.46,227.30 L473.01,227.30 L473.56,227.29 L474.12,227.29 L474.67,227.28 L475.22,227.27 L475.77,227.26 L476.33,227.25 L476.88,227.24 L477.43,227.22 L477.99,227.20 L478.54,227.17 L479.09,227.16 L479.64,227.32 L480.19,227.75 L480.75,228.59 L481.30,231.30 L481.30,231.30 L480.75,234.01 L480.19,234.85 L479.64,235.28 L479.09,235.44 L478.54,235.43 L477.99,235.40 L477.43,235.38 L476.88,235.36 L476.33,235.35 L475.77,235.34 L475.22,235.33 L474.67,235.32 L474.12,235.31 L473.56,235.31 L473.01,235.30 L472.46,235.30 L471.91,235.30 L471.36,235.30 L470.80,235.30 L470.25,235.30 L469.70,235.30 L469.14,235.30 L468.59,235.30 L468.04,235.30 L467.49,235.30 L466.94,235.31 L466.38,235.31 L465.83,235.32 L465.28,235.33 L464.73,235.34 L464.17,235.35 L463.62,235.36 L463.07,235.38 L462.51,235.40 L461.96,235.43 L461.41,235.44 L460.86,235.28 L460.31,234.85 L459.75,234.01 L459.20,231.30Z" fill="#757575" filter="url(#b3)" opacity="1"/>
<path d="M484.90,189.60 L485.64,184.46 L486.39,182.70 L487.13,181.56 L487.88,180.79 L488.62,180.25 L489.37,179.90 L490.12,179.70 L490.86,179.65 L491.61,179.69 L492.35,179.72 L493.09,179.75 L493.84,179.77 L494.58,179.78 L495.33,179.79 L496.07,179.80 L496.82,179.80 L497.56,179.80 L498.31,179.80 L499.06,179.80 L499.80,179.80 L500.55,179.80 L501.29,179.80 L502.04,179.80 L502.78,179.80 L503.53,179.80 L504.27,179.79 L505.02,179.78 L505.76,179.77 L506.51,179.75 L507.25,179.72 L508.00,179.69 L508.74,179.65 L509.49,179.70 L510.23,179.90 L510.98,180.25 L511.72,180.79 L512.47,181.56 L513.21,182.70 L513.96,184.46 L514.70,189.60 L514.70,189.60 L513.96,194.74 L513.21,196.50 L512.47,197.64 L511.72,198.41 L510.98,198.95 L510.23,199.30 L509.49,199.50 L508.74,199.55 L508.00,199.51 L507.25,199.47 L506.51,199.45 L505.76,199.43 L505.02,199.42 L504.27,199.41 L503.53,199.40 L502.78,199.40 L502.04,199.40 L501.29,199.40 L500.55,199.40 L499.80,199.40 L499.06,199.40 L498.31,199.40 L497.56,199.40 L496.82,199.40 L496.07,199.40 L495.33,199.41 L494.58,199.42 L493.84,199.43 L493.09,199.45 L492.35,199.47 L491.61,199.51 L490.86,199.55 L490.12,199.50 L489.37,199.30 L488.62,198.95 L487.88,198.41 L487.13,197.64 L486.39,196.50 L485.64,194.74 L484.90,189.60Z" fill="#0a0a0a" filter="url(#b3)" opacity="1"/>
<path d="M508.6,181 L510,176.2 L511.4,181Z" fill="#222" filter="url(#b2)"/>
<path d="M545.30,101.45 L545.92,98.67 L546.54,97.86 L547.17,97.52 L547.79,97.45 L548.41,97.43 L549.03,97.40 L549.66,97.38 L550.28,97.36 L550.90,97.35 L551.52,97.34 L552.15,97.33 L552.77,97.32 L553.39,97.31 L554.01,97.31 L554.64,97.30 L555.26,97.30 L555.88,97.30 L556.50,97.30 L557.13,97.30 L557.75,97.30 L558.37,97.30 L559.00,97.30 L559.62,97.30 L560.24,97.30 L560.86,97.30 L561.49,97.31 L562.11,97.31 L562.73,97.32 L563.35,97.33 L563.98,97.34 L564.60,97.35 L565.22,97.36 L565.84,97.38 L566.47,97.40 L567.09,97.43 L567.71,97.45 L568.33,97.52 L568.96,97.86 L569.58,98.67 L570.20,101.45 L570.20,101.45 L569.58,103.94 L568.96,104.50 L568.33,104.61 L567.71,104.47 L567.09,104.32 L566.47,104.18 L565.84,104.07 L565.22,103.97 L564.60,103.88 L563.98,103.81 L563.35,103.75 L562.73,103.71 L562.11,103.67 L561.49,103.65 L560.86,103.63 L560.24,103.61 L559.62,103.61 L559.00,103.60 L558.37,103.60 L557.75,103.60 L557.13,103.60 L556.50,103.60 L555.88,103.61 L555.26,103.61 L554.64,103.63 L554.01,103.65 L553.39,103.67 L552.77,103.71 L552.15,103.75 L551.52,103.81 L550.90,103.88 L550.28,103.97 L549.66,104.07 L549.03,104.18 L548.41,104.32 L547.79,104.47 L547.17,104.61 L546.54,104.50 L545.92,103.94 L545.30,101.45Z" fill="#0a0a0a" filter="url(#b4)" opacity="1"/>
<path d="M545.60,118.95 L546.22,115.91 L546.84,114.93 L547.46,114.41 L548.08,114.21 L548.70,114.14 L549.32,114.07 L549.94,114.02 L550.56,113.97 L551.18,113.93 L551.80,113.90 L552.42,113.87 L553.04,113.85 L553.66,113.83 L554.28,113.82 L554.90,113.81 L555.52,113.81 L556.14,113.80 L556.76,113.80 L557.38,113.80 L558.00,113.80 L558.62,113.80 L559.24,113.80 L559.86,113.80 L560.48,113.81 L561.10,113.81 L561.72,113.82 L562.34,113.83 L562.96,113.85 L563.58,113.87 L564.20,113.90 L564.82,113.93 L565.44,113.97 L566.06,114.02 L566.68,114.07 L567.30,114.14 L567.92,114.21 L568.54,114.41 L569.16,114.93 L569.78,115.91 L570.40,118.95 L570.40,118.95 L569.78,121.62 L569.16,122.27 L568.54,122.49 L567.92,122.42 L567.30,122.26 L566.68,122.12 L566.06,121.99 L565.44,121.89 L564.82,121.80 L564.20,121.72 L563.58,121.66 L562.96,121.62 L562.34,121.58 L561.72,121.55 L561.10,121.53 L560.48,121.51 L559.86,121.51 L559.24,121.50 L558.62,121.50 L558.00,121.50 L557.38,121.50 L556.76,121.50 L556.14,121.51 L555.52,121.51 L554.90,121.53 L554.28,121.55 L553.66,121.58 L553.04,121.62 L552.42,121.66 L551.80,121.72 L551.18,121.80 L550.56,121.89 L549.94,121.99 L549.32,122.12 L548.70,122.26 L548.08,122.42 L547.46,122.49 L546.84,122.27 L546.22,121.62 L545.60,118.95Z" fill="#0a0a0a" filter="url(#b4)" opacity="1"/>
<path d="M545.30,129.50 L545.94,126.44 L546.57,125.54 L547.21,125.12 L547.85,125.00 L548.49,125.02 L549.12,125.03 L549.76,125.05 L550.40,125.06 L551.04,125.07 L551.67,125.08 L552.31,125.08 L552.95,125.09 L553.59,125.09 L554.22,125.09 L554.86,125.10 L555.50,125.10 L556.14,125.10 L556.77,125.10 L557.41,125.10 L558.05,125.10 L558.69,125.10 L559.32,125.10 L559.96,125.10 L560.60,125.10 L561.24,125.10 L561.88,125.09 L562.51,125.09 L563.15,125.09 L563.79,125.08 L564.42,125.08 L565.06,125.07 L565.70,125.06 L566.34,125.05 L566.97,125.03 L567.61,125.02 L568.25,125.00 L568.89,125.12 L569.52,125.54 L570.16,126.44 L570.80,129.50 L570.80,129.50 L570.16,132.27 L569.52,132.92 L568.89,133.11 L568.25,133.03 L567.61,132.83 L566.97,132.65 L566.34,132.50 L565.70,132.38 L565.06,132.27 L564.42,132.17 L563.79,132.10 L563.15,132.04 L562.51,131.99 L561.88,131.96 L561.24,131.93 L560.60,131.92 L559.96,131.91 L559.32,131.90 L558.69,131.90 L558.05,131.90 L557.41,131.90 L556.77,131.90 L556.14,131.91 L555.50,131.92 L554.86,131.93 L554.22,131.96 L553.59,131.99 L552.95,132.04 L552.31,132.10 L551.67,132.17 L551.04,132.27 L550.40,132.38 L549.76,132.50 L549.12,132.65 L548.49,132.83 L547.85,133.03 L547.21,133.11 L546.57,132.92 L545.94,132.27 L545.30,129.50Z" fill="#0a0a0a" filter="url(#b4)" opacity="1"/>
<path d="M545.80,146.80 L546.42,144.22 L547.05,143.54 L547.67,143.32 L548.30,143.30 L548.92,143.28 L549.55,143.27 L550.17,143.25 L550.80,143.24 L551.42,143.23 L552.05,143.22 L552.67,143.22 L553.30,143.21 L553.92,143.21 L554.55,143.21 L555.17,143.20 L555.80,143.20 L556.42,143.20 L557.05,143.20 L557.67,143.20 L558.30,143.20 L558.92,143.20 L559.55,143.20 L560.17,143.20 L560.80,143.20 L561.42,143.20 L562.05,143.21 L562.67,143.21 L563.30,143.21 L563.92,143.22 L564.55,143.22 L565.17,143.23 L565.80,143.24 L566.42,143.25 L567.05,143.27 L567.67,143.28 L568.30,143.30 L568.92,143.32 L569.55,143.54 L570.17,144.22 L570.80,146.80 L570.80,146.80 L570.17,149.04 L569.55,149.41 L568.92,149.35 L568.30,149.13 L567.67,148.93 L567.05,148.75 L566.42,148.60 L565.80,148.48 L565.17,148.37 L564.55,148.27 L563.92,148.20 L563.30,148.14 L562.67,148.09 L562.05,148.06 L561.42,148.03 L560.80,148.02 L560.17,148.01 L559.55,148.00 L558.92,148.00 L558.30,148.00 L557.67,148.00 L557.05,148.00 L556.42,148.01 L555.80,148.02 L555.17,148.03 L554.55,148.06 L553.92,148.09 L553.30,148.14 L552.67,148.20 L552.05,148.27 L551.42,148.37 L550.80,148.48 L550.17,148.60 L549.55,148.75 L548.92,148.93 L548.30,149.13 L547.67,149.35 L547.05,149.41 L546.42,149.04 L545.80,146.80Z" fill="#0a0a0a" filter="url(#b4)" opacity="1"/>
<path d="M545.80,182.05 L546.43,179.33 L547.07,178.55 L547.70,178.25 L548.34,178.20 L548.97,178.17 L549.61,178.14 L550.25,178.11 L550.88,178.09 L551.51,178.07 L552.15,178.05 L552.78,178.04 L553.42,178.03 L554.05,178.02 L554.69,178.01 L555.33,178.01 L555.96,178.00 L556.60,178.00 L557.23,178.00 L557.87,178.00 L558.50,178.00 L559.13,178.00 L559.77,178.00 L560.40,178.00 L561.04,178.00 L561.67,178.01 L562.31,178.01 L562.95,178.02 L563.58,178.03 L564.22,178.04 L564.85,178.05 L565.49,178.07 L566.12,178.09 L566.75,178.11 L567.39,178.14 L568.03,178.17 L568.66,178.20 L569.30,178.25 L569.93,178.55 L570.57,179.33 L571.20,182.05 L571.20,182.05 L570.57,184.50 L569.93,185.03 L569.30,185.11 L568.66,184.97 L568.03,184.83 L567.39,184.71 L566.75,184.61 L566.12,184.52 L565.49,184.45 L564.85,184.39 L564.22,184.34 L563.58,184.30 L562.95,184.26 L562.31,184.24 L561.67,184.22 L561.04,184.21 L560.40,184.21 L559.77,184.20 L559.13,184.20 L558.50,184.20 L557.87,184.20 L557.23,184.20 L556.60,184.21 L555.96,184.21 L555.33,184.22 L554.69,184.24 L554.05,184.26 L553.42,184.30 L552.78,184.34 L552.15,184.39 L551.51,184.45 L550.88,184.52 L550.25,184.61 L549.61,184.71 L548.97,184.83 L548.34,184.97 L547.70,185.11 L547.07,185.03 L546.43,184.50 L545.80,182.05Z" fill="#0a0a0a" filter="url(#b4)" opacity="1"/>
<path d="M545.80,224.35 L546.44,221.46 L547.09,220.60 L547.74,220.23 L548.38,220.15 L549.02,220.13 L549.67,220.10 L550.31,220.08 L550.96,220.06 L551.61,220.05 L552.25,220.04 L552.89,220.03 L553.54,220.02 L554.18,220.01 L554.83,220.01 L555.48,220.00 L556.12,220.00 L556.76,220.00 L557.41,220.00 L558.05,220.00 L558.70,220.00 L559.35,220.00 L559.99,220.00 L560.63,220.00 L561.28,220.00 L561.92,220.00 L562.57,220.01 L563.22,220.01 L563.86,220.02 L564.50,220.03 L565.15,220.04 L565.79,220.05 L566.44,220.06 L567.09,220.08 L567.73,220.10 L568.38,220.13 L569.02,220.15 L569.66,220.23 L570.31,220.60 L570.96,221.46 L571.60,224.35 L571.60,224.35 L570.96,227.02 L570.31,227.67 L569.66,227.86 L569.02,227.77 L568.38,227.65 L567.73,227.55 L567.09,227.46 L566.44,227.38 L565.79,227.32 L565.15,227.26 L564.50,227.22 L563.86,227.18 L563.22,227.16 L562.57,227.14 L561.92,227.12 L561.28,227.11 L560.63,227.10 L559.99,227.10 L559.35,227.10 L558.70,227.10 L558.05,227.10 L557.41,227.10 L556.76,227.10 L556.12,227.11 L555.48,227.12 L554.83,227.14 L554.18,227.16 L553.54,227.18 L552.89,227.22 L552.25,227.26 L551.61,227.32 L550.96,227.38 L550.31,227.46 L549.67,227.55 L549.02,227.65 L548.38,227.77 L547.74,227.86 L547.09,227.67 L546.44,227.02 L545.80,224.35Z" fill="#0a0a0a" filter="url(#b4)" opacity="1"/>
<path d="M431.3,252.0 L440.6,255.9 L431.3,259.9Z" fill="#000"/><path d="M428.6,255.9 H432.3" stroke="#000" stroke-width="1"/>
<path d="M453.0,252.0 L443.8,255.9 L453.0,259.9Z" fill="#000"/><path d="M452.0,255.9 H455.1" stroke="#000" stroke-width="1"/>
<path d="M468.8,252.0 L459.4,255.9 L468.8,259.9Z" fill="#000"/><path d="M467.8,255.9 H474.2" stroke="#000" stroke-width="1"/>
<path d="M473.6,252.0 L482.5,255.9 L473.6,259.9Z" fill="#000"/>
<path d="M490.5,252.0 L499.7,255.9 L490.5,259.9Z" fill="#000"/><path d="M487.8,255.9 H491.5" stroke="#000" stroke-width="1"/>
<path d="M511.7,252.0 L502.7,255.9 L511.7,259.9Z" fill="#000"/><path d="M510.7,255.9 H514.3" stroke="#000" stroke-width="1"/>
<path d="M529.4,252.0 L520.3,255.9 L529.4,259.9Z" fill="#000"/><path d="M528.4,255.9 H535.0" stroke="#000" stroke-width="1"/>
<path d="M534.4,252.0 L543.5,255.9 L534.4,259.9Z" fill="#000"/>
<text x="487.6" y="278.7" font-size="14.4" font-weight="bold" text-anchor="middle" font-family="'Liberation Sans',sans-serif">circ35933</text>
<rect x="389.2" y="337.5" width="196.9" height="160.05" fill="#fff" stroke="#333" stroke-width="1.25"/>
<text x="370.0" y="350.9" font-size="12.9" font-weight="normal" text-anchor="middle" font-family="'DejaVu Sans','Liberation Sans',sans-serif" textLength="30.6" lengthAdjust="spacingAndGlyphs" stroke="#000" stroke-width="0.42">2000</text>
<text x="370.0" y="374.5" font-size="12.9" font-weight="normal" text-anchor="middle" font-family="'DejaVu Sans','Liberation Sans',sans-serif" textLength="30.6" lengthAdjust="spacingAndGlyphs" stroke="#000" stroke-width="0.42">1000</text>
<text x="370.0" y="392.3" font-size="12.9" font-weight="normal" text-anchor="middle" font-family="'DejaVu Sans','Liberation Sans',sans-serif" textLength="22.8" lengthAdjust="spacingAndGlyphs" stroke="#000" stroke-width="0.42">750</text>
<text x="370.0" y="411.2" font-size="12.9" font-weight="normal" text-anchor="middle" font-family="'DejaVu Sans','Liberation Sans',sans-serif" textLength="22.8" lengthAdjust="spacingAndGlyphs" stroke="#000" stroke-width="0.42">500</text>
<text x="370.0" y="447.5" font-size="12.9" font-weight="normal" text-anchor="middle" font-family="'DejaVu Sans','Liberation Sans',sans-serif" textLength="22.8" lengthAdjust="spacingAndGlyphs" stroke="#000" stroke-width="0.42">250</text>
<text x="370.0" y="492.4" font-size="12.9" font-weight="normal" text-anchor="middle" font-family="'DejaVu Sans','Liberation Sans',sans-serif" textLength="22.8" lengthAdjust="spacingAndGlyphs" stroke="#000" stroke-width="0.42">100</text>
<text x="430.6" y="318.0" font-size="13.2" font-weight="normal" text-anchor="start" font-family="'DejaVu Sans','Liberation Sans',sans-serif" textLength="37.6" lengthAdjust="spacingAndGlyphs" stroke="#000" stroke-width="0.42">cDNA</text>
<text x="501.2" y="315.2" font-size="13.2" font-weight="normal" text-anchor="start" font-family="'DejaVu Sans','Liberation Sans',sans-serif" textLength="40.1" lengthAdjust="spacingAndGlyphs" stroke="#000" stroke-width="0.42">gDNA</text>
<path d="M424.1,329.9 H481.9 M496.3,329.3 H554.1" stroke="#000" stroke-width="2.2"/>
<path d="M392.60,345.00 L393.15,343.20 L393.69,342.82 L394.24,342.86 L394.78,343.08 L395.33,343.31 L395.88,343.53 L396.42,343.71 L396.97,343.86 L397.51,343.97 L398.06,344.04 L398.60,344.08 L399.15,344.08 L399.70,344.06 L400.24,344.00 L400.79,343.93 L401.33,343.84 L401.88,343.74 L402.43,343.65 L402.97,343.56 L403.52,343.48 L404.06,343.43 L404.61,343.40 L405.15,343.39 L405.70,343.40 L406.25,343.39 L406.79,343.40 L407.34,343.43 L407.88,343.48 L408.43,343.56 L408.98,343.65 L409.52,343.74 L410.07,343.84 L410.61,343.93 L411.16,344.00 L411.70,344.06 L412.25,344.08 L412.80,344.08 L413.34,344.04 L413.89,343.97 L414.43,343.86 L414.98,343.71 L415.53,343.53 L416.07,343.31 L416.62,343.08 L417.16,342.86 L417.71,342.82 L418.25,343.20 L418.80,345.00 L418.80,345.00 L418.25,346.80 L417.71,347.29 L417.16,347.58 L416.62,347.68 L416.07,347.72 L415.53,347.74 L414.98,347.73 L414.43,347.70 L413.89,347.63 L413.34,347.53 L412.80,347.39 L412.25,347.23 L411.70,347.04 L411.16,346.82 L410.61,346.59 L410.07,346.35 L409.52,346.11 L408.98,345.87 L408.43,345.65 L407.88,345.45 L407.34,345.28 L406.79,345.15 L406.25,345.05 L405.70,345.00 L405.15,345.05 L404.61,345.15 L404.06,345.28 L403.52,345.45 L402.97,345.65 L402.43,345.87 L401.88,346.11 L401.33,346.35 L400.79,346.59 L400.24,346.82 L399.70,347.04 L399.15,347.23 L398.60,347.39 L398.06,347.53 L397.51,347.63 L396.97,347.70 L396.42,347.73 L395.88,347.74 L395.33,347.72 L394.78,347.68 L394.24,347.58 L393.69,347.29 L393.15,346.80 L392.60,345.00Z" fill="#0a0a0a" filter="url(#b2)" opacity="1"/>
<path d="M393.20,369.90 L393.75,367.89 L394.30,367.51 L394.85,367.75 L395.40,368.17 L395.95,368.60 L396.50,368.96 L397.05,369.26 L397.60,369.48 L398.15,369.62 L398.70,369.67 L399.25,369.64 L399.80,369.53 L400.35,369.34 L400.90,369.10 L401.45,368.81 L402.00,368.49 L402.55,368.16 L403.10,367.83 L403.65,367.53 L404.20,367.26 L404.75,367.05 L405.30,366.90 L405.85,366.81 L406.40,366.80 L406.95,366.81 L407.50,366.90 L408.05,367.05 L408.60,367.26 L409.15,367.53 L409.70,367.83 L410.25,368.16 L410.80,368.49 L411.35,368.81 L411.90,369.10 L412.45,369.34 L413.00,369.53 L413.55,369.64 L414.10,369.67 L414.65,369.62 L415.20,369.48 L415.75,369.26 L416.30,368.96 L416.85,368.60 L417.40,368.17 L417.95,367.75 L418.50,367.51 L419.05,367.89 L419.60,369.90 L419.60,369.90 L419.05,371.91 L418.50,372.54 L417.95,373.10 L417.40,373.41 L416.85,373.65 L416.30,373.84 L415.75,373.96 L415.20,374.01 L414.65,373.98 L414.10,373.86 L413.55,373.66 L413.00,373.39 L412.45,373.05 L411.90,372.65 L411.35,372.22 L410.80,371.76 L410.25,371.29 L409.70,370.83 L409.15,370.40 L408.60,370.01 L408.05,369.69 L407.50,369.44 L406.95,369.27 L406.40,369.20 L405.85,369.27 L405.30,369.44 L404.75,369.69 L404.20,370.01 L403.65,370.40 L403.10,370.83 L402.55,371.29 L402.00,371.76 L401.45,372.22 L400.90,372.65 L400.35,373.05 L399.80,373.39 L399.25,373.66 L398.70,373.86 L398.15,373.98 L397.60,374.01 L397.05,373.96 L396.50,373.84 L395.95,373.65 L395.40,373.41 L394.85,373.10 L394.30,372.54 L393.75,371.91 L393.20,369.90Z" fill="#0a0a0a" filter="url(#b2)" opacity="1"/>
<path d="M393.00,382.60 L393.57,379.69 L394.15,379.02 L394.73,379.08 L395.30,379.44 L395.88,379.82 L396.45,380.14 L397.02,380.41 L397.60,380.61 L398.18,380.73 L398.75,380.78 L399.32,380.75 L399.90,380.65 L400.48,380.48 L401.05,380.26 L401.62,380.00 L402.20,379.72 L402.78,379.42 L403.35,379.13 L403.93,378.85 L404.50,378.62 L405.07,378.42 L405.65,378.29 L406.23,378.21 L406.80,378.20 L407.38,378.21 L407.95,378.29 L408.53,378.42 L409.10,378.62 L409.68,378.85 L410.25,379.13 L410.83,379.42 L411.40,379.72 L411.98,380.00 L412.55,380.26 L413.12,380.48 L413.70,380.65 L414.28,380.75 L414.85,380.78 L415.43,380.73 L416.00,380.61 L416.58,380.41 L417.15,380.14 L417.73,379.82 L418.30,379.44 L418.88,379.08 L419.45,379.02 L420.03,379.69 L420.60,382.60 L420.60,382.60 L420.03,385.51 L419.45,386.41 L418.88,387.06 L418.30,387.36 L417.73,387.58 L417.15,387.75 L416.58,387.85 L416.00,387.90 L415.43,387.87 L414.85,387.76 L414.28,387.59 L413.70,387.35 L413.12,387.04 L412.55,386.69 L411.98,386.30 L411.40,385.88 L410.83,385.46 L410.25,385.05 L409.68,384.67 L409.10,384.33 L408.53,384.04 L407.95,383.81 L407.38,383.66 L406.80,383.60 L406.23,383.66 L405.65,383.81 L405.07,384.04 L404.50,384.33 L403.93,384.67 L403.35,385.05 L402.78,385.46 L402.20,385.88 L401.62,386.30 L401.05,386.69 L400.48,387.04 L399.90,387.35 L399.32,387.59 L398.75,387.76 L398.18,387.87 L397.60,387.90 L397.02,387.85 L396.45,387.75 L395.88,387.58 L395.30,387.36 L394.73,387.06 L394.15,386.41 L393.57,385.51 L393.00,382.60Z" fill="#0a0a0a" filter="url(#b2)" opacity="1"/>
<path d="M394.60,403.40 L395.15,401.85 L395.70,401.52 L396.25,401.60 L396.80,401.82 L397.35,402.06 L397.90,402.27 L398.45,402.44 L399.00,402.56 L399.55,402.65 L400.10,402.69 L400.65,402.68 L401.20,402.63 L401.75,402.55 L402.30,402.43 L402.85,402.29 L403.40,402.13 L403.95,401.97 L404.50,401.80 L405.05,401.65 L405.60,401.52 L406.15,401.41 L406.70,401.34 L407.25,401.30 L407.80,401.30 L408.35,401.30 L408.90,401.34 L409.45,401.41 L410.00,401.52 L410.55,401.65 L411.10,401.80 L411.65,401.97 L412.20,402.13 L412.75,402.29 L413.30,402.43 L413.85,402.55 L414.40,402.63 L414.95,402.68 L415.50,402.69 L416.05,402.65 L416.60,402.56 L417.15,402.44 L417.70,402.27 L418.25,402.06 L418.80,401.82 L419.35,401.60 L419.90,401.52 L420.45,401.85 L421.00,403.40 L421.00,403.40 L420.45,404.95 L419.90,405.41 L419.35,405.75 L418.80,405.92 L418.25,406.03 L417.70,406.12 L417.15,406.17 L416.60,406.18 L416.05,406.15 L415.50,406.08 L414.95,405.96 L414.40,405.81 L413.85,405.62 L413.30,405.40 L412.75,405.16 L412.20,404.91 L411.65,404.65 L411.10,404.40 L410.55,404.16 L410.00,403.95 L409.45,403.77 L408.90,403.64 L408.35,403.54 L407.80,403.50 L407.25,403.54 L406.70,403.64 L406.15,403.77 L405.60,403.95 L405.05,404.16 L404.50,404.40 L403.95,404.65 L403.40,404.91 L402.85,405.16 L402.30,405.40 L401.75,405.62 L401.20,405.81 L400.65,405.96 L400.10,406.08 L399.55,406.15 L399.00,406.18 L398.45,406.17 L397.90,406.12 L397.35,406.03 L396.80,405.92 L396.25,405.75 L395.70,405.41 L395.15,404.95 L394.60,403.40Z" fill="#0a0a0a" filter="url(#b2)" opacity="1"/>
<path d="M395.40,441.40 L396.07,439.37 L396.74,438.85 L397.41,438.66 L398.08,438.68 L398.75,438.79 L399.42,438.90 L400.09,439.00 L400.76,439.10 L401.43,439.19 L402.10,439.28 L402.77,439.36 L403.44,439.44 L404.11,439.51 L404.78,439.58 L405.45,439.64 L406.12,439.70 L406.79,439.76 L407.46,439.81 L408.13,439.86 L408.80,439.90 L409.47,439.94 L410.14,439.97 L410.81,440.00 L411.48,440.02 L412.15,440.04 L412.82,440.06 L413.49,440.07 L414.16,440.08 L414.83,440.08 L415.50,440.07 L416.17,440.07 L416.84,440.06 L417.51,440.04 L418.18,440.02 L418.85,439.99 L419.52,439.96 L420.19,440.02 L420.86,440.29 L421.53,440.89 L422.20,443.00 L422.20,443.00 L421.53,444.96 L420.86,445.42 L420.19,445.55 L419.52,445.46 L418.85,445.30 L418.18,445.14 L417.51,445.00 L416.84,444.86 L416.17,444.72 L415.50,444.60 L414.83,444.48 L414.16,444.38 L413.49,444.28 L412.82,444.18 L412.15,444.10 L411.48,444.02 L410.81,443.96 L410.14,443.90 L409.47,443.84 L408.80,443.80 L408.13,443.76 L407.46,443.74 L406.79,443.72 L406.12,443.70 L405.45,443.70 L404.78,443.70 L404.11,443.72 L403.44,443.74 L402.77,443.76 L402.10,443.80 L401.43,443.84 L400.76,443.90 L400.09,443.96 L399.42,444.02 L398.75,444.10 L398.08,444.18 L397.41,444.19 L396.74,443.98 L396.07,443.44 L395.40,441.40Z" fill="#0a0a0a" filter="url(#b2)" opacity="1"/>
<ellipse cx="402.0" cy="483.2" rx="5.0" ry="2.3" fill="#111" filter="url(#b2)"/>
<ellipse cx="417.2" cy="484.0" rx="5.4" ry="2.4" fill="#111" filter="url(#b2)"/>
<rect x="404" y="482.7" width="10" height="1.2" fill="#777" filter="url(#b1)"/>
<path d="M427.00,454.75 L427.77,452.08 L428.55,451.17 L429.32,450.62 L430.09,450.28 L430.86,450.10 L431.63,450.05 L432.41,450.06 L433.18,450.07 L433.95,450.08 L434.73,450.09 L435.50,450.09 L436.27,450.09 L437.04,450.10 L437.81,450.10 L438.59,450.10 L439.36,450.10 L440.13,450.10 L440.90,450.10 L441.68,450.10 L442.45,450.10 L443.22,450.10 L444.00,450.10 L444.77,450.10 L445.54,450.10 L446.31,450.10 L447.08,450.10 L447.86,450.10 L448.63,450.09 L449.40,450.09 L450.17,450.09 L450.95,450.08 L451.72,450.07 L452.49,450.06 L453.26,450.05 L454.04,450.10 L454.81,450.28 L455.58,450.62 L456.35,451.17 L457.13,452.08 L457.90,454.75 L457.90,454.75 L457.13,457.37 L456.35,458.22 L455.58,458.73 L454.81,459.04 L454.04,459.19 L453.26,459.22 L452.49,459.19 L451.72,459.16 L450.95,459.15 L450.17,459.13 L449.40,459.12 L448.63,459.11 L447.86,459.11 L447.08,459.10 L446.31,459.10 L445.54,459.10 L444.77,459.10 L444.00,459.10 L443.22,459.10 L442.45,459.10 L441.68,459.10 L440.90,459.10 L440.13,459.10 L439.36,459.10 L438.59,459.10 L437.81,459.10 L437.04,459.11 L436.27,459.11 L435.50,459.12 L434.73,459.13 L433.95,459.15 L433.18,459.16 L432.41,459.19 L431.63,459.22 L430.86,459.19 L430.09,459.04 L429.32,458.73 L428.55,458.22 L427.77,457.37 L427.00,454.75Z" fill="#0a0a0a" filter="url(#b2)" opacity="1"/>
<path d="M463.80,478.20 L464.46,476.14 L465.12,475.50 L465.77,475.15 L466.43,474.97 L467.09,474.93 L467.75,474.97 L468.40,475.00 L469.06,475.03 L469.72,475.05 L470.38,475.06 L471.03,475.07 L471.69,475.08 L472.35,475.07 L473.00,475.07 L473.66,475.06 L474.32,475.05 L474.98,475.04 L475.63,475.03 L476.29,475.01 L476.95,475.00 L477.61,474.98 L478.27,474.97 L478.92,474.95 L479.58,474.93 L480.24,474.91 L480.90,474.89 L481.55,474.86 L482.21,474.84 L482.87,474.80 L483.53,474.76 L484.18,474.72 L484.84,474.67 L485.50,474.61 L486.16,474.55 L486.81,474.48 L487.47,474.49 L488.13,474.64 L488.79,474.96 L489.44,475.57 L490.10,477.60 L490.10,477.60 L489.44,479.74 L488.79,480.44 L488.13,480.85 L487.47,481.07 L486.81,481.16 L486.16,481.16 L485.50,481.16 L484.84,481.16 L484.18,481.17 L483.53,481.18 L482.87,481.18 L482.21,481.19 L481.55,481.20 L480.90,481.22 L480.24,481.23 L479.58,481.24 L478.92,481.26 L478.27,481.27 L477.61,481.29 L476.95,481.30 L476.29,481.32 L475.63,481.33 L474.98,481.35 L474.32,481.36 L473.66,481.38 L473.00,481.40 L472.35,481.41 L471.69,481.43 L471.03,481.45 L470.38,481.47 L469.72,481.50 L469.06,481.52 L468.40,481.55 L467.75,481.58 L467.09,481.61 L466.43,481.55 L465.77,481.36 L465.12,480.98 L464.46,480.31 L463.80,478.20Z" fill="#151515" filter="url(#b2)" opacity="1"/>
<path d="M493.30,455.95 L494.10,452.67 L494.89,451.47 L495.69,450.68 L496.48,450.13 L497.28,449.75 L498.07,449.50 L498.87,449.37 L499.66,449.34 L500.46,449.33 L501.25,449.32 L502.05,449.32 L502.84,449.31 L503.63,449.31 L504.43,449.31 L505.23,449.30 L506.02,449.30 L506.81,449.30 L507.61,449.30 L508.41,449.30 L509.20,449.30 L510.00,449.30 L510.79,449.30 L511.59,449.30 L512.38,449.30 L513.18,449.30 L513.97,449.31 L514.76,449.31 L515.56,449.31 L516.36,449.32 L517.15,449.32 L517.95,449.33 L518.74,449.34 L519.53,449.37 L520.33,449.50 L521.12,449.75 L521.92,450.13 L522.72,450.68 L523.51,451.47 L524.31,452.67 L525.10,455.95 L525.10,455.95 L524.31,458.97 L523.51,459.94 L522.72,460.52 L521.92,460.89 L521.12,461.11 L520.33,461.21 L519.53,461.22 L518.74,461.15 L517.95,461.07 L517.15,461.00 L516.36,460.95 L515.56,460.90 L514.76,460.87 L513.97,460.84 L513.18,460.82 L512.38,460.81 L511.59,460.81 L510.79,460.80 L510.00,460.80 L509.20,460.80 L508.41,460.80 L507.61,460.80 L506.81,460.81 L506.02,460.81 L505.23,460.82 L504.43,460.84 L503.63,460.87 L502.84,460.90 L502.05,460.95 L501.25,461.00 L500.46,461.07 L499.66,461.15 L498.87,461.22 L498.07,461.21 L497.28,461.11 L496.48,460.89 L495.69,460.52 L494.89,459.94 L494.10,458.97 L493.30,455.95Z" fill="#0a0a0a" filter="url(#b2)" opacity="1"/>
<path d="M557.60,346.35 L558.24,344.35 L558.87,344.16 L559.50,344.32 L560.14,344.47 L560.77,344.60 L561.41,344.71 L562.05,344.80 L562.68,344.88 L563.32,344.94 L563.95,344.98 L564.59,345.02 L565.22,345.05 L565.86,345.07 L566.49,345.08 L567.12,345.09 L567.76,345.10 L568.39,345.10 L569.03,345.10 L569.66,345.10 L570.30,345.10 L570.94,345.10 L571.57,345.10 L572.21,345.10 L572.84,345.10 L573.48,345.09 L574.11,345.08 L574.75,345.07 L575.38,345.05 L576.01,345.02 L576.65,344.98 L577.28,344.94 L577.92,344.88 L578.55,344.80 L579.19,344.71 L579.83,344.60 L580.46,344.47 L581.10,344.32 L581.73,344.16 L582.37,344.35 L583.00,346.35 L583.00,346.35 L582.37,348.18 L581.73,348.22 L581.10,347.94 L580.46,347.67 L579.83,347.45 L579.19,347.26 L578.55,347.11 L577.92,346.98 L577.28,346.88 L576.65,346.80 L576.01,346.74 L575.38,346.69 L574.75,346.65 L574.11,346.63 L573.48,346.62 L572.84,346.61 L572.21,346.60 L571.57,346.60 L570.94,346.60 L570.30,346.60 L569.66,346.60 L569.03,346.60 L568.39,346.60 L567.76,346.61 L567.12,346.62 L566.49,346.63 L565.86,346.65 L565.22,346.69 L564.59,346.74 L563.95,346.80 L563.32,346.88 L562.68,346.98 L562.05,347.11 L561.41,347.26 L560.77,347.45 L560.14,347.67 L559.50,347.94 L558.87,348.22 L558.24,348.18 L557.60,346.35Z" fill="#0a0a0a" filter="url(#b2)" opacity="1"/>
<path d="M558.40,371.40 L559.02,369.20 L559.64,368.92 L560.27,369.04 L560.89,369.25 L561.51,369.43 L562.13,369.57 L562.76,369.70 L563.38,369.80 L564.00,369.88 L564.62,369.94 L565.25,369.99 L565.87,370.03 L566.49,370.06 L567.12,370.08 L567.74,370.09 L568.36,370.09 L568.98,370.10 L569.61,370.10 L570.23,370.10 L570.85,370.10 L571.47,370.10 L572.09,370.10 L572.72,370.10 L573.34,370.09 L573.96,370.09 L574.58,370.08 L575.21,370.06 L575.83,370.03 L576.45,369.99 L577.07,369.94 L577.70,369.88 L578.32,369.80 L578.94,369.70 L579.56,369.57 L580.19,369.43 L580.81,369.25 L581.43,369.04 L582.05,368.92 L582.68,369.20 L583.30,371.40 L583.30,371.40 L582.68,373.48 L582.05,373.66 L581.43,373.45 L580.81,373.16 L580.19,372.92 L579.56,372.72 L578.94,372.55 L578.32,372.41 L577.70,372.30 L577.07,372.21 L576.45,372.15 L575.83,372.10 L575.21,372.06 L574.58,372.03 L573.96,372.02 L573.34,372.01 L572.72,372.00 L572.09,372.00 L571.47,372.00 L570.85,372.00 L570.23,372.00 L569.61,372.00 L568.98,372.00 L568.36,372.01 L567.74,372.02 L567.12,372.03 L566.49,372.06 L565.87,372.10 L565.25,372.15 L564.62,372.21 L564.00,372.30 L563.38,372.41 L562.76,372.55 L562.13,372.72 L561.51,372.92 L560.89,373.16 L560.27,373.45 L559.64,373.66 L559.02,373.48 L558.40,371.40Z" fill="#0a0a0a" filter="url(#b2)" opacity="1"/>
<path d="M558.60,383.80 L559.24,380.99 L559.87,380.31 L560.50,380.10 L561.14,380.15 L561.77,380.25 L562.41,380.32 L563.05,380.39 L563.68,380.44 L564.32,380.48 L564.95,380.52 L565.59,380.54 L566.22,380.56 L566.86,380.58 L567.49,380.59 L568.12,380.59 L568.76,380.60 L569.39,380.60 L570.03,380.60 L570.66,380.60 L571.30,380.60 L571.94,380.60 L572.57,380.60 L573.21,380.60 L573.84,380.60 L574.48,380.59 L575.11,380.59 L575.75,380.58 L576.38,380.56 L577.01,380.54 L577.65,380.52 L578.28,380.48 L578.92,380.44 L579.55,380.39 L580.19,380.32 L580.83,380.25 L581.46,380.15 L582.10,380.10 L582.73,380.31 L583.37,380.99 L584.00,383.80 L584.00,383.80 L583.37,386.24 L582.73,386.59 L582.10,386.52 L581.46,386.23 L580.83,385.94 L580.19,385.69 L579.55,385.48 L578.92,385.31 L578.28,385.17 L577.65,385.06 L577.01,384.98 L576.38,384.92 L575.75,384.87 L575.11,384.84 L574.48,384.82 L573.84,384.81 L573.21,384.80 L572.57,384.80 L571.94,384.80 L571.30,384.80 L570.66,384.80 L570.03,384.80 L569.39,384.80 L568.76,384.81 L568.12,384.82 L567.49,384.84 L566.86,384.87 L566.22,384.92 L565.59,384.98 L564.95,385.06 L564.32,385.17 L563.68,385.31 L563.05,385.48 L562.41,385.69 L561.77,385.94 L561.14,386.23 L560.50,386.52 L559.87,386.59 L559.24,386.24 L558.60,383.80Z" fill="#0a0a0a" filter="url(#b2)" opacity="1"/>
<path d="M559.60,403.80 L560.21,401.65 L560.81,401.23 L561.41,401.20 L562.02,401.20 L562.62,401.20 L563.23,401.20 L563.84,401.20 L564.44,401.20 L565.04,401.20 L565.65,401.20 L566.25,401.20 L566.86,401.20 L567.47,401.20 L568.07,401.20 L568.67,401.20 L569.28,401.20 L569.88,401.20 L570.49,401.20 L571.10,401.20 L571.70,401.20 L572.30,401.20 L572.91,401.20 L573.51,401.20 L574.12,401.20 L574.73,401.20 L575.33,401.20 L575.93,401.20 L576.54,401.20 L577.14,401.20 L577.75,401.20 L578.36,401.20 L578.96,401.20 L579.56,401.20 L580.17,401.20 L580.77,401.20 L581.38,401.20 L581.99,401.20 L582.59,401.23 L583.19,401.65 L583.80,403.80 L583.80,403.80 L583.19,405.51 L582.59,405.55 L581.99,405.25 L581.38,404.96 L580.77,404.72 L580.17,404.52 L579.56,404.35 L578.96,404.21 L578.36,404.10 L577.75,404.01 L577.14,403.95 L576.54,403.90 L575.93,403.86 L575.33,403.83 L574.73,403.82 L574.12,403.81 L573.51,403.80 L572.91,403.80 L572.30,403.80 L571.70,403.80 L571.10,403.80 L570.49,403.80 L569.88,403.80 L569.28,403.81 L568.67,403.82 L568.07,403.83 L567.47,403.86 L566.86,403.90 L566.25,403.95 L565.65,404.01 L565.04,404.10 L564.44,404.21 L563.84,404.35 L563.23,404.52 L562.62,404.72 L562.02,404.96 L561.41,405.25 L560.81,405.55 L560.21,405.51 L559.60,403.80Z" fill="#0a0a0a" filter="url(#b2)" opacity="1"/>
<path d="M560.60,441.70 L561.21,439.58 L561.82,439.16 L562.42,439.11 L563.03,439.09 L563.64,439.07 L564.25,439.06 L564.85,439.04 L565.46,439.03 L566.07,439.02 L566.67,439.02 L567.28,439.01 L567.89,439.01 L568.50,439.00 L569.11,439.00 L569.71,439.00 L570.32,439.00 L570.93,439.00 L571.53,439.00 L572.14,439.00 L572.75,439.00 L573.36,439.00 L573.97,439.00 L574.57,439.00 L575.18,439.00 L575.79,439.00 L576.39,439.00 L577.00,439.00 L577.61,439.01 L578.22,439.01 L578.83,439.02 L579.43,439.02 L580.04,439.03 L580.65,439.04 L581.25,439.06 L581.86,439.07 L582.47,439.09 L583.08,439.11 L583.68,439.16 L584.29,439.58 L584.90,441.70 L584.90,441.70 L584.29,443.45 L583.68,443.55 L583.08,443.31 L582.47,443.10 L581.86,442.91 L581.25,442.75 L580.65,442.62 L580.04,442.52 L579.43,442.43 L578.83,442.36 L578.22,442.31 L577.61,442.27 L577.00,442.25 L576.39,442.23 L575.79,442.21 L575.18,442.21 L574.57,442.20 L573.97,442.20 L573.36,442.20 L572.75,442.20 L572.14,442.20 L571.53,442.20 L570.93,442.20 L570.32,442.21 L569.71,442.21 L569.11,442.23 L568.50,442.25 L567.89,442.27 L567.28,442.31 L566.67,442.36 L566.07,442.43 L565.46,442.52 L564.85,442.62 L564.25,442.75 L563.64,442.91 L563.03,443.10 L562.42,443.31 L561.82,443.55 L561.21,443.45 L560.60,441.70Z" fill="#0a0a0a" filter="url(#b2)" opacity="1"/>
<path d="M562.70,482.15 L563.27,480.76 L563.85,480.70 L564.42,480.70 L564.99,480.70 L565.56,480.70 L566.13,480.70 L566.71,480.70 L567.28,480.70 L567.85,480.70 L568.43,480.70 L569.00,480.70 L569.57,480.70 L570.14,480.70 L570.72,480.70 L571.29,480.70 L571.86,480.70 L572.43,480.70 L573.00,480.70 L573.58,480.70 L574.15,480.70 L574.72,480.70 L575.30,480.70 L575.87,480.70 L576.44,480.70 L577.01,480.70 L577.59,480.70 L578.16,480.70 L578.73,480.70 L579.30,480.70 L579.88,480.70 L580.45,480.70 L581.02,480.70 L581.59,480.70 L582.17,480.70 L582.74,480.70 L583.31,480.70 L583.88,480.70 L584.46,480.70 L585.03,480.76 L585.60,482.15 L585.60,482.15 L585.03,483.47 L584.46,483.48 L583.88,483.42 L583.31,483.37 L582.74,483.32 L582.17,483.27 L581.59,483.23 L581.02,483.20 L580.45,483.16 L579.88,483.13 L579.30,483.10 L578.73,483.08 L578.16,483.06 L577.59,483.04 L577.01,483.03 L576.44,483.02 L575.87,483.01 L575.30,483.00 L574.72,483.00 L574.15,483.00 L573.58,483.00 L573.00,483.00 L572.43,483.01 L571.86,483.02 L571.29,483.03 L570.72,483.04 L570.14,483.06 L569.57,483.08 L569.00,483.10 L568.43,483.13 L567.85,483.16 L567.28,483.20 L566.71,483.23 L566.13,483.27 L565.56,483.32 L564.99,483.37 L564.42,483.42 L563.85,483.48 L563.27,483.47 L562.70,482.15Z" fill="#555" filter="url(#b2)" opacity="0.9"/>
<path d="M430.7,505.0 L440.2,509.0 L430.7,513.0Z" fill="#000"/><path d="M428.1,509.0 H431.7" stroke="#000" stroke-width="1"/>
<path d="M451.9,505.0 L442.4,509.0 L451.9,513.0Z" fill="#000"/><path d="M450.9,509.0 H455.0" stroke="#000" stroke-width="1"/>
<path d="M474.6,505.0 L465.1,509.0 L474.6,513.0Z" fill="#000"/><path d="M473.6,509.0 H480.8" stroke="#000" stroke-width="1"/>
<path d="M480.1,505.0 L489.4,509.0 L480.1,513.0Z" fill="#000"/>
<path d="M499.9,505.0 L509.2,509.0 L499.9,513.0Z" fill="#000"/><path d="M497.0,509.0 H500.9" stroke="#000" stroke-width="1"/>
<path d="M520.9,505.0 L511.5,509.0 L520.9,513.0Z" fill="#000"/><path d="M519.9,509.0 H523.8" stroke="#000" stroke-width="1"/>
<path d="M540.4,505.0 L531.1,509.0 L540.4,513.0Z" fill="#000"/><path d="M539.4,509.0 H546.6" stroke="#000" stroke-width="1"/>
<path d="M545.9,505.0 L555.0,509.0 L545.9,513.0Z" fill="#000"/>
<text x="492.5" y="529.9" font-size="14.4" font-weight="bold" text-anchor="middle" font-family="'Liberation Sans',sans-serif">circ37908</text>
<path d="M681.60,215.60 V162.40 H717.40 V215.60" fill="#ffd3a3" stroke="#ff8000" stroke-width="1.6"/>
<path d="M738.15,215.60 V145.95 H773.95 V215.60" fill="#ff8080" stroke="#ff3c3c" stroke-width="1.5"/>
<circle cx="689.8" cy="151.8" r="2.25" fill="#000"/>
<circle cx="699.4" cy="153.9" r="2.25" fill="#000"/>
<circle cx="708.9" cy="167.8" r="2.25" fill="#000"/>
<circle cx="689.8" cy="172.2" r="2.25" fill="#000"/>
<path d="M699.6,151.2 V171.4 M690.2,151.2 H708.6 M690.2,171.4 H708.6" stroke="#ff8000" stroke-width="1.6" fill="none"/>
<rect x="754.2" y="121.1" width="4.6" height="4.5" fill="#000"/>
<path d="M756.4,126.5 V163.8 M747.3,126.5 H765.6 M747.3,163.8 H765.4" stroke="#ff3c3c" stroke-width="1.4" fill="none"/>
<path d="M754.65,150.9 V161.4 M757.85,150.9 V161.4" stroke="#000" stroke-width="1.8" stroke-dasharray="3.2 0.5" fill="none"/>
<path d="M671.2,106.3 V216.3" stroke="#111" stroke-width="1.5"/>
<path d="M667.9,215.6 H785.8" stroke="#111" stroke-width="1.55"/>
<path d="M667.9,106.9 H671.2" stroke="#111" stroke-width="1.2"/>
<text x="666.7" y="110.15" font-size="9.0" font-weight="bold" text-anchor="end" font-family="'Liberation Sans',sans-serif">2.0</text>
<path d="M667.9,134.1 H671.2" stroke="#111" stroke-width="1.2"/>
<text x="666.7" y="137.35" font-size="9.0" font-weight="bold" text-anchor="end" font-family="'Liberation Sans',sans-serif">1.5</text>
<path d="M667.9,161.2 H671.2" stroke="#111" stroke-width="1.2"/>
<text x="666.7" y="164.45" font-size="9.0" font-weight="bold" text-anchor="end" font-family="'Liberation Sans',sans-serif">1.0</text>
<path d="M667.9,188.4 H671.2" stroke="#111" stroke-width="1.2"/>
<text x="666.7" y="191.65" font-size="9.0" font-weight="bold" text-anchor="end" font-family="'Liberation Sans',sans-serif">0.5</text>
<path d="M667.9,215.5 H671.2" stroke="#111" stroke-width="1.2"/>
<text x="666.7" y="218.75" font-size="9.0" font-weight="bold" text-anchor="end" font-family="'Liberation Sans',sans-serif">0</text>
<path d="M699.4,215.6 V219.0 M757.0,215.6 V219.0" stroke="#111" stroke-width="1.2"/>
<text transform="translate(632,218.2) rotate(-90)" font-size="13.3" font-family="'Liberation Sans',sans-serif" font-weight="bold" textLength="114" lengthAdjust="spacingAndGlyphs">Relative circ35933</text>
<text transform="translate(648,210.8) rotate(-90)" font-size="13.3" font-family="'Liberation Sans',sans-serif" font-weight="bold" textLength="99.3" lengthAdjust="spacingAndGlyphs">RNA expression</text>
<text x="632.0" y="229.9" font-size="9.7" font-weight="bold" text-anchor="start" font-family="'Liberation Sans',sans-serif" textLength="37.5" lengthAdjust="spacingAndGlyphs">ActD (h)</text>
<text x="699.3" y="230.6" font-size="10.4" font-weight="bold" text-anchor="middle" font-family="'Liberation Sans',sans-serif" textLength="6.6" lengthAdjust="spacingAndGlyphs">0</text>
<text x="756.8" y="230.6" font-size="10.4" font-weight="bold" text-anchor="middle" font-family="'Liberation Sans',sans-serif" textLength="12.4" lengthAdjust="spacingAndGlyphs">24</text>
<path d="M681.90,475.05 V432.80 H718.00 V475.05" fill="#ffd3a3" stroke="#ff8000" stroke-width="1.6"/>
<path d="M738.95,475.05 V403.35 H774.95 V475.05" fill="#ff8080" stroke="#ff3c3c" stroke-width="1.5"/>
<circle cx="700" cy="400.9" r="3.0" fill="#000"/>
<circle cx="700" cy="411.0" r="3.0" fill="#000"/>
<circle cx="699.9" cy="454.3" r="3.0" fill="#000"/>
<circle cx="699.9" cy="461.9" r="3.0" fill="#000"/>
<path d="M700,401.7 V462.0 M690.8,401.7 H709.2 M690.4,462.0 H709.4" stroke="#ff8000" stroke-width="1.7" fill="none"/>
<rect x="753.7" y="370.0" width="6.6" height="6.2" fill="#000"/>
<path d="M756.9,377.0 V427.8 M747.5,377.0 H765.9 M747.5,427.8 H765.9" stroke="#ff3c3c" stroke-width="1.4" fill="none"/>
<path d="M754.65,410.0 V423.5 M759.05,410.0 V423.5" stroke="#000" stroke-width="2.5" stroke-dasharray="5.9 0.8" fill="none"/>
<path d="M671.8,365.8 V475.8" stroke="#111" stroke-width="1.3"/>
<path d="M667.9,475.1 H785.8" stroke="#111" stroke-width="1.55"/>
<path d="M667.9,366.4 H671.8" stroke="#111" stroke-width="1.2"/>
<text x="666.7" y="369.65" font-size="9.0" font-weight="bold" text-anchor="end" font-family="'Liberation Sans',sans-serif">2.5</text>
<path d="M667.9,388.2 H671.8" stroke="#111" stroke-width="1.2"/>
<text x="666.7" y="391.45" font-size="9.0" font-weight="bold" text-anchor="end" font-family="'Liberation Sans',sans-serif">2.0</text>
<path d="M667.9,409.9 H671.8" stroke="#111" stroke-width="1.2"/>
<text x="666.7" y="413.15" font-size="9.0" font-weight="bold" text-anchor="end" font-family="'Liberation Sans',sans-serif">1.5</text>
<path d="M667.9,431.6 H671.8" stroke="#111" stroke-width="1.2"/>
<text x="666.7" y="434.85" font-size="9.0" font-weight="bold" text-anchor="end" font-family="'Liberation Sans',sans-serif">1.0</text>
<path d="M667.9,453.4 H671.8" stroke="#111" stroke-width="1.2"/>
<text x="666.7" y="456.65" font-size="9.0" font-weight="bold" text-anchor="end" font-family="'Liberation Sans',sans-serif">0.5</text>
<path d="M667.9,475.1 H671.8" stroke="#111" stroke-width="1.2"/>
<text x="666.7" y="478.35" font-size="9.0" font-weight="bold" text-anchor="end" font-family="'Liberation Sans',sans-serif">0</text>
<path d="M700.2,475.1 V478.4 M757.1,475.1 V478.4" stroke="#111" stroke-width="1.2"/>
<text transform="translate(632.3,477.5) rotate(-90)" font-size="13.3" font-family="'Liberation Sans',sans-serif" font-weight="bold" textLength="114" lengthAdjust="spacingAndGlyphs">Relative circ37908</text>
<text transform="translate(648,470.2) rotate(-90)" font-size="13.3" font-family="'Liberation Sans',sans-serif" font-weight="bold" textLength="100.0" lengthAdjust="spacingAndGlyphs">RNA expression</text>
<text x="633.0" y="490.6" font-size="9.7" font-weight="bold" text-anchor="start" font-family="'Liberation Sans',sans-serif" textLength="37.3" lengthAdjust="spacingAndGlyphs">ActD (h)</text>
<text x="699.9" y="490.4" font-size="10.4" font-weight="bold" text-anchor="middle" font-family="'Liberation Sans',sans-serif" textLength="6.4" lengthAdjust="spacingAndGlyphs">0</text>
<text x="756.8" y="490.3" font-size="10.4" font-weight="bold" text-anchor="middle" font-family="'Liberation Sans',sans-serif" textLength="12.4" lengthAdjust="spacingAndGlyphs">24</text>
</svg>
</body></html>
